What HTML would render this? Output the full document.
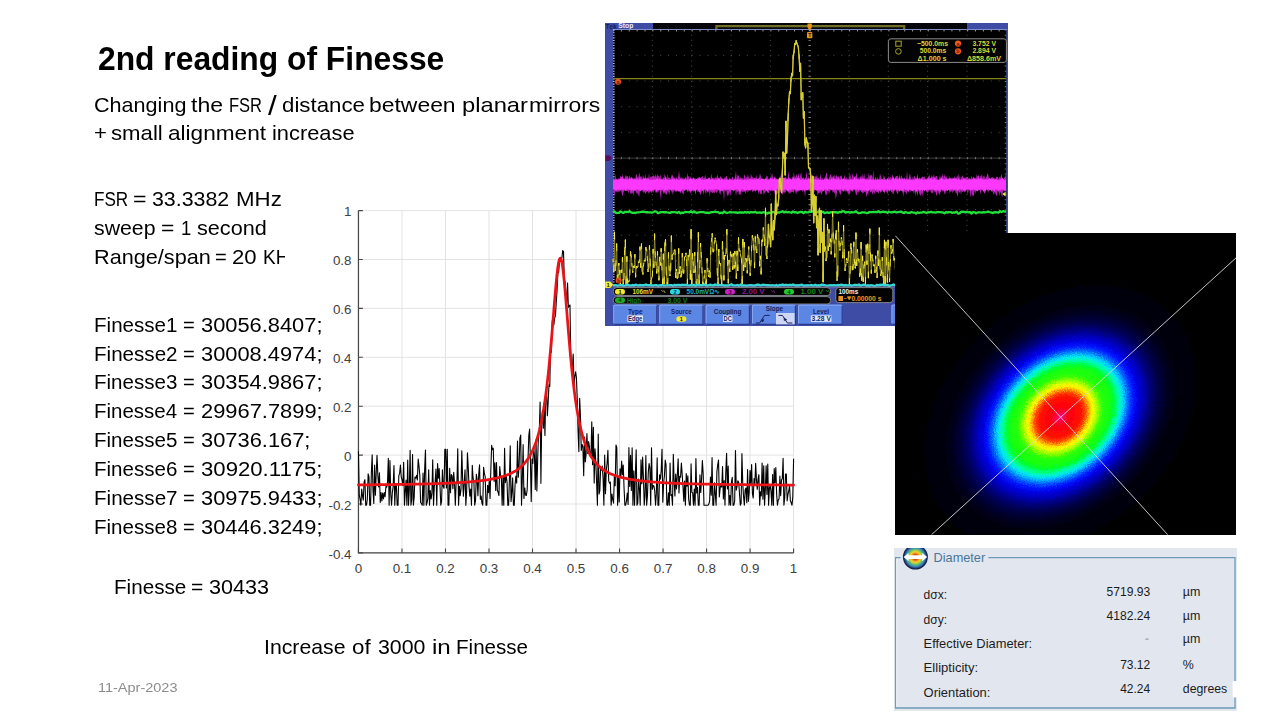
<!DOCTYPE html>
<html><head><meta charset="utf-8"><title>2nd reading of Finesse</title>
<style>
html,body{margin:0;padding:0;background:#fff;}
body{width:1280px;height:720px;position:relative;overflow:hidden;font-family:"Liberation Sans",sans-serif;}
.t{position:absolute;white-space:nowrap;transform-origin:0 0;line-height:1;}
svg{position:absolute;display:block;overflow:hidden;}
svg text{font-family:"Liberation Sans",sans-serif;}
</style></head><body>
<div class="t" style="left:97.89px;top:42.48px;font-size:33.4px;transform:scaleX(0.9522);color:#000;font-weight:bold;">2nd reading of Finesse</div>
<div class="t" style="left:0;top:94.72px;font-size:20.3px;color:#000;"><span class="t" style="left:94.02px;top:0;transform:scaleX(1.0645)">Changing</span> <span class="t" style="left:190.55px;top:0;transform:scaleX(1.1371)">the</span> <span class="t" style="left:228.88px;top:0;transform:scaleX(0.8144)">FSR</span> <span class="t" style="left:268.20px;top:-3.01px;font-size:27.4px;transform:scaleX(1.1470)">/</span> <span class="t" style="left:282.41px;top:0;transform:scaleX(1.0975)">distance</span> <span class="t" style="left:369.41px;top:0;transform:scaleX(1.1296)">between</span> <span class="t" style="left:461.56px;top:0;transform:scaleX(1.1698)">planar</span> <span class="t" style="left:528.81px;top:0;transform:scaleX(1.1309)">mirrors</span></div>
<div class="t" style="left:0;top:123.42px;font-size:20.3px;color:#000;"><span class="t" style="left:94.00px;top:0;transform:scaleX(1.0868)">+</span> <span class="t" style="left:111.23px;top:0;transform:scaleX(1.0932)">small</span> <span class="t" style="left:168.29px;top:0;transform:scaleX(1.1150)">alignment</span> <span class="t" style="left:271.58px;top:0;transform:scaleX(1.0765)">increase</span></div>
<div class="t" style="left:0;top:188.92px;font-size:20.3px;color:#000;"><span class="t" style="left:94.33px;top:0;transform:scaleX(0.8433)">FSR</span> <span class="t" style="left:133.25px;top:0;transform:scaleX(1.1376)">=</span> <span class="t" style="left:152.05px;top:0;transform:scaleX(1.0523)">33.3382</span> <span class="t" style="left:236.02px;top:0;transform:scaleX(1.0978)">MHz</span></div>
<div class="t" style="left:0;top:217.62px;font-size:20.3px;color:#000;"><span class="t" style="left:94.36px;top:0;transform:scaleX(1.0499)">sweep</span> <span class="t" style="left:161.06px;top:0;transform:scaleX(1.1274)">=</span> <span class="t" style="left:181.02px;top:0;transform:scaleX(0.9060)">1</span> <span class="t" style="left:197.15px;top:0;transform:scaleX(1.0671)">second</span></div>
<div class="t" style="left:0;top:246.62px;font-size:20.3px;color:#000;"><span class="t" style="left:93.87px;top:0;transform:scaleX(1.0679)">Range/span</span> <span class="t" style="left:214.99px;top:0;transform:scaleX(0.9954)">=</span> <span class="t" style="left:232.09px;top:0;transform:scaleX(1.0910)">20</span> <span class="t" style="left:262.58px;top:0;transform:scaleX(0.9348)">KHz</span></div>
<svg style="left:285px;top:198px" width="560" height="394" viewBox="0 0 560 394">
<rect x="0" y="0" width="560" height="394" fill="#fff"/>
<path d="M73.45 12.60V354.90M116.96 12.60V354.90M160.48 12.60V354.90M204.00 12.60V354.90M247.51 12.60V354.90M291.02 12.60V354.90M334.54 12.60V354.90M378.06 12.60V354.90M421.57 12.60V354.90M465.09 12.60V354.90M508.60 12.60V354.90M73.45 12.60H508.60M73.45 61.50H508.60M73.45 110.40H508.60M73.45 159.30H508.60M73.45 208.20H508.60M73.45 257.10H508.60M73.45 306.00H508.60M73.45 354.90H508.60" stroke="#e3e3e3" stroke-width="1" fill="none"/>
<path d="M73.45 12.60V354.90H508.60" stroke="#484848" stroke-width="1.25" fill="none"/>
<path d="M73.45 354.90v-4.4M116.96 354.90v-4.4M160.48 354.90v-4.4M204.00 354.90v-4.4M247.51 354.90v-4.4M291.02 354.90v-4.4M334.54 354.90v-4.4M378.06 354.90v-4.4M421.57 354.90v-4.4M465.09 354.90v-4.4M508.60 354.90v-4.4M73.45 12.60h4.4M73.45 61.50h4.4M73.45 110.40h4.4M73.45 159.30h4.4M73.45 208.20h4.4M73.45 257.10h4.4M73.45 306.00h4.4M73.45 354.90h4.4" stroke="#484848" stroke-width="1.1" fill="none"/>
<g font-size="13.4" fill="#404040">
<text x="73.45" y="374.90" text-anchor="middle">0</text>
<text x="116.96" y="374.90" text-anchor="middle">0.1</text>
<text x="160.48" y="374.90" text-anchor="middle">0.2</text>
<text x="204.00" y="374.90" text-anchor="middle">0.3</text>
<text x="247.51" y="374.90" text-anchor="middle">0.4</text>
<text x="291.02" y="374.90" text-anchor="middle">0.5</text>
<text x="334.54" y="374.90" text-anchor="middle">0.6</text>
<text x="378.06" y="374.90" text-anchor="middle">0.7</text>
<text x="421.57" y="374.90" text-anchor="middle">0.8</text>
<text x="465.09" y="374.90" text-anchor="middle">0.9</text>
<text x="508.60" y="374.90" text-anchor="middle">1</text>
<text x="66.50" y="18.40" text-anchor="end">1</text>
<text x="66.50" y="67.30" text-anchor="end">0.8</text>
<text x="66.50" y="116.20" text-anchor="end">0.6</text>
<text x="66.50" y="165.10" text-anchor="end">0.4</text>
<text x="66.50" y="214.00" text-anchor="end">0.2</text>
<text x="66.50" y="262.90" text-anchor="end">0</text>
<text x="66.50" y="311.80" text-anchor="end">-0.2</text>
<text x="66.50" y="360.70" text-anchor="end">-0.4</text>
</g>
<path d="M73.45 253.16L74.26 296.95L75.06 301.22L75.87 307.22L76.68 290.96L77.49 297.65L78.29 302.31L79.10 283.97L79.91 281.69L80.72 307.22L81.52 307.22L82.33 300.97L83.14 275.89L83.95 278.64L84.75 307.22L85.56 307.22L86.37 274.84L87.17 256.81L87.98 291.35L88.79 305.38L89.60 267.09L90.40 297.32L91.21 275.03L92.02 257.31L92.83 277.08L93.63 289.04L94.44 274.86L95.25 304.43L96.06 294.43L96.86 302.94L97.67 294.98L98.48 301.04L99.28 294.56L100.09 298.74L100.90 288.63L101.71 289.17L102.51 284.15L103.32 260.33L104.13 307.22L104.94 262.62L105.74 295.59L106.55 307.22L107.36 294.17L108.17 288.48L108.97 267.47L109.78 307.22L110.59 285.74L111.39 287.87L112.20 307.22L113.01 307.22L113.82 277.46L114.62 275.40L115.43 266.95L116.24 278.85L117.05 281.82L117.85 287.67L118.66 264.29L119.47 307.22L120.28 293.33L121.08 281.97L121.89 307.22L122.70 262.03L123.50 307.22L124.31 291.75L125.12 252.29L125.93 307.22L126.73 301.55L127.54 256.54L128.35 307.22L129.16 299.41L129.96 278.99L130.77 280.28L131.58 277.29L132.38 282.08L133.19 261.08L134.00 268.15L134.81 277.19L135.61 304.67L136.42 305.31L137.23 307.22L138.04 275.13L138.84 307.22L139.65 270.97L140.46 251.97L141.27 307.22L142.07 304.55L142.88 300.05L143.69 271.91L144.49 307.22L145.30 292.54L146.11 300.97L146.92 295.10L147.72 261.88L148.53 307.22L149.34 288.07L150.15 283.75L150.95 271.09L151.76 307.22L152.57 265.53L153.38 280.13L154.18 270.65L154.99 287.89L155.80 307.22L156.60 303.30L157.41 271.75L158.22 288.52L159.03 290.33L159.83 251.35L160.64 251.32L161.45 289.98L162.26 251.26L163.06 307.22L163.87 307.22L164.68 270.39L165.49 294.65L166.29 276.52L167.10 277.82L167.91 290.82L168.71 274.18L169.52 285.57L170.33 307.22L171.14 284.02L171.94 284.70L172.75 250.75L173.56 307.22L174.37 288.19L175.17 297.64L175.98 291.32L176.79 252.71L177.60 280.21L178.40 298.30L179.21 284.94L180.02 271.71L180.82 307.22L181.63 293.77L182.44 254.84L183.25 269.54L184.05 288.86L184.86 298.11L185.67 291.08L186.48 307.22L187.28 267.34L188.09 280.22L188.90 284.51L189.71 307.22L190.51 302.72L191.32 276.18L192.13 281.63L192.93 297.78L193.74 276.14L194.55 266.71L195.36 301.34L196.16 298.15L196.97 305.35L197.78 307.22L198.59 269.29L199.39 275.35L200.20 278.92L201.01 307.22L201.82 307.22L202.62 287.32L203.43 294.63L204.24 283.03L205.04 300.52L205.85 271.27L206.66 247.30L207.47 251.78L208.27 250.27L209.08 283.22L209.89 264.76L210.70 292.53L211.50 264.45L212.31 292.21L213.12 294.40L213.93 297.55L214.73 268.44L215.54 277.35L216.35 279.05L217.15 307.22L217.96 279.55L218.77 307.22L219.58 250.34L220.38 284.67L221.19 277.39L222.00 283.55L222.81 307.22L223.61 307.22L224.42 280.96L225.23 247.90L226.04 303.65L226.84 294.46L227.65 279.91L228.46 307.22L229.26 307.22L230.07 286.47L230.88 278.13L231.69 285.08L232.49 243.13L233.30 279.13L234.11 267.28L234.92 240.04L235.72 237.14L236.53 307.22L237.34 280.53L238.14 246.66L238.95 300.55L239.76 289.93L240.57 297.08L241.37 297.53L242.18 291.63L242.99 262.36L243.80 237.74L244.60 230.96L245.41 262.31L246.22 303.60L247.03 260.96L247.83 265.48L248.64 248.93L249.45 257.49L250.25 291.45L251.06 241.85L251.87 293.01L252.68 260.98L253.48 236.85L254.29 233.24L255.10 203.97L255.91 285.36L256.71 223.71L257.52 212.39L258.33 230.14L259.14 204.92L259.94 237.47L260.75 194.45L261.56 191.34L262.36 217.62L263.17 204.13L263.98 186.78L264.79 188.54L265.59 145.67L266.40 154.32L267.21 123.96L268.02 117.96L268.82 126.87L269.63 119.90L270.44 117.99L271.25 104.23L272.05 92.78L272.86 75.10L273.67 74.24L274.47 63.58L275.28 59.30L276.09 60.48L276.90 60.00L277.70 52.60L278.51 53.68L279.32 81.65L280.13 84.27L280.93 96.42L281.74 105.54L282.55 85.03L283.36 109.33L284.16 107.89L284.97 106.96L285.78 161.10L286.58 165.09L287.39 168.92L288.20 155.97L289.01 187.31L289.81 178.49L290.62 173.72L291.43 179.79L292.24 200.73L293.04 232.41L293.85 253.59L294.66 200.36L295.47 218.68L296.27 252.38L297.08 246.50L297.89 248.45L298.69 277.75L299.50 239.01L300.31 263.87L301.12 255.60L301.92 235.52L302.73 255.51L303.54 243.64L304.35 247.98L305.15 258.02L305.96 259.18L306.77 223.76L307.58 266.66L308.38 229.22L309.19 285.08L310.00 250.83L310.80 263.88L311.61 284.23L312.42 307.22L313.23 236.01L314.03 296.00L314.84 292.64L315.65 269.87L316.46 272.12L317.26 268.01L318.07 280.10L318.88 307.22L319.69 257.13L320.49 295.78L321.30 272.02L322.11 264.95L322.91 252.33L323.72 282.90L324.53 285.20L325.34 284.05L326.14 307.22L326.95 296.01L327.76 301.73L328.57 305.20L329.37 277.17L330.18 287.79L330.99 247.03L331.80 249.62L332.60 307.22L333.41 279.55L334.22 303.98L335.02 270.71L335.83 279.51L336.64 263.11L337.45 276.66L338.25 267.17L339.06 290.17L339.87 307.22L340.68 307.22L341.48 302.70L342.29 295.02L343.10 306.42L343.91 249.66L344.71 288.57L345.52 257.22L346.33 292.53L347.13 249.79L347.94 307.22L348.75 272.75L349.56 307.22L350.36 276.39L351.17 251.88L351.98 307.22L352.79 305.01L353.59 281.08L354.40 290.46L355.21 307.22L356.01 261.78L356.82 285.63L357.63 259.02L358.44 280.09L359.24 307.22L360.05 297.47L360.86 257.46L361.67 307.22L362.47 297.38L363.28 274.51L364.09 265.67L364.90 269.78L365.70 307.22L366.51 249.82L367.32 291.33L368.12 287.59L368.93 287.98L369.74 292.97L370.55 307.22L371.35 295.13L372.16 259.70L372.97 307.22L373.78 307.22L374.58 276.81L375.39 281.11L376.20 272.76L377.01 251.31L377.81 304.13L378.62 284.76L379.43 277.80L380.23 262.16L381.04 266.63L381.85 306.89L382.66 307.22L383.46 294.70L384.27 307.22L385.08 265.04L385.89 297.44L386.69 296.65L387.50 307.22L388.31 256.28L389.12 282.90L389.92 298.00L390.73 276.01L391.54 291.04L392.34 276.46L393.15 260.89L393.96 294.99L394.77 278.31L395.57 279.07L396.38 264.98L397.19 276.63L398.00 288.75L398.80 303.30L399.61 283.16L400.42 307.22L401.23 275.47L402.03 288.30L402.84 277.79L403.65 300.81L404.45 306.90L405.26 307.22L406.07 265.89L406.88 294.43L407.68 294.70L408.49 307.22L409.30 291.02L410.11 307.22L410.91 260.52L411.72 295.05L412.53 289.42L413.34 307.22L414.14 307.22L414.95 276.92L415.76 294.43L416.56 280.73L417.37 262.64L418.18 275.73L418.99 307.22L419.79 307.22L420.60 307.22L421.41 307.22L422.22 307.22L423.02 307.22L423.83 306.12L424.64 303.00L425.45 279.04L426.25 297.15L427.06 259.60L427.87 307.22L428.67 307.22L429.48 284.86L430.29 296.13L431.10 307.22L431.90 273.74L432.71 266.89L433.52 262.13L434.33 298.93L435.13 290.52L435.94 285.47L436.75 289.15L437.56 268.45L438.36 300.98L439.17 282.46L439.98 307.22L440.78 274.20L441.59 255.18L442.40 291.04L443.21 268.17L444.01 307.22L444.82 297.67L445.63 307.22L446.44 283.66L447.24 279.28L448.05 307.22L448.86 307.22L449.67 303.15L450.47 252.63L451.28 292.15L452.09 287.99L452.89 282.83L453.70 284.19L454.51 295.75L455.32 307.22L456.12 305.24L456.93 255.47L457.74 285.13L458.55 298.66L459.35 307.22L460.16 291.87L460.97 289.99L461.77 304.73L462.58 271.50L463.39 303.37L464.20 294.33L465.00 272.58L465.81 285.89L466.62 266.57L467.43 295.67L468.23 300.04L469.04 280.67L469.85 286.13L470.66 265.24L471.46 282.02L472.27 291.33L473.08 281.10L473.88 276.67L474.69 307.22L475.50 293.86L476.31 297.98L477.11 264.96L477.92 301.23L478.73 267.92L479.54 307.22L480.34 292.01L481.15 267.86L481.96 296.44L482.77 266.03L483.57 307.22L484.38 290.26L485.19 287.38L485.99 293.55L486.80 307.22L487.61 276.53L488.42 307.22L489.22 270.47L490.03 284.60L490.84 269.65L491.65 296.35L492.45 307.22L493.26 302.00L494.07 300.88L494.88 278.03L495.68 297.61L496.49 281.98L497.30 280.48L498.10 260.32L498.91 307.22L499.72 299.56L500.53 276.04L501.33 275.98L502.14 302.85L502.95 296.46L503.76 292.76L504.56 287.91L505.37 302.82L506.18 304.52L506.99 307.22L507.79 298.84L508.60 260.82" stroke="#000" stroke-width="1.1" fill="none" stroke-linejoin="round"/>
<path d="M73.45 286.88L74.54 286.87L75.63 286.87L76.72 286.86L77.81 286.85L78.90 286.84L79.99 286.83L81.08 286.82L82.17 286.81L83.27 286.80L84.36 286.79L85.45 286.78L86.54 286.77L87.63 286.76L88.72 286.75L89.81 286.74L90.90 286.73L91.99 286.72L93.08 286.71L94.17 286.70L95.26 286.68L96.35 286.67L97.44 286.66L98.53 286.65L99.62 286.63L100.72 286.62L101.81 286.61L102.90 286.60L103.99 286.58L105.08 286.57L106.17 286.55L107.26 286.54L108.35 286.52L109.44 286.51L110.53 286.49L111.62 286.48L112.71 286.46L113.80 286.45L114.89 286.43L115.98 286.41L117.07 286.40L118.16 286.38L119.26 286.36L120.35 286.34L121.44 286.32L122.53 286.31L123.62 286.29L124.71 286.27L125.80 286.25L126.89 286.22L127.98 286.20L129.07 286.18L130.16 286.16L131.25 286.14L132.34 286.11L133.43 286.09L134.52 286.07L135.61 286.04L136.70 286.02L137.80 285.99L138.89 285.96L139.98 285.94L141.07 285.91L142.16 285.88L143.25 285.85L144.34 285.82L145.43 285.79L146.52 285.76L147.61 285.72L148.70 285.69L149.79 285.66L150.88 285.62L151.97 285.59L153.06 285.55L154.15 285.51L155.25 285.47L156.34 285.43L157.43 285.39L158.52 285.35L159.61 285.31L160.70 285.26L161.79 285.22L162.88 285.17L163.97 285.12L165.06 285.07L166.15 285.02L167.24 284.97L168.33 284.91L169.42 284.85L170.51 284.80L171.60 284.74L172.69 284.67L173.79 284.61L174.88 284.55L175.97 284.48L177.06 284.41L178.15 284.34L179.24 284.26L180.33 284.18L181.42 284.10L182.51 284.02L183.60 283.93L184.69 283.85L185.78 283.75L186.87 283.66L187.96 283.56L189.05 283.46L190.14 283.35L191.23 283.24L192.33 283.12L193.42 283.01L194.51 282.88L195.60 282.75L196.69 282.62L197.78 282.48L198.87 282.33L199.96 282.18L201.05 282.02L202.14 281.86L203.23 281.69L204.32 281.51L205.41 281.32L206.50 281.12L207.59 280.91L208.68 280.70L209.78 280.47L210.87 280.23L211.96 279.98L213.05 279.72L214.14 279.45L215.23 279.16L216.32 278.85L217.41 278.53L218.50 278.19L219.59 277.83L220.68 277.45L221.77 277.05L222.86 276.63L223.95 276.18L225.04 275.70L226.13 275.19L227.22 274.65L228.32 274.08L229.41 273.47L230.50 272.81L231.59 272.11L232.68 271.36L233.77 270.56L234.86 269.70L235.95 268.77L237.04 267.78L238.13 266.70L239.22 265.54L240.31 264.28L240.46 264.10L240.81 263.67L241.16 263.23L241.40 262.92L241.51 262.78L241.86 262.31L242.21 261.83L242.49 261.44L242.56 261.34L242.91 260.84L243.26 260.32L243.58 259.82L243.61 259.78L243.96 259.24L244.31 258.67L244.66 258.09L244.67 258.07L245.01 257.50L245.36 256.88L245.71 256.25L245.77 256.15L246.06 255.60L246.41 254.93L246.76 254.24L246.86 254.05L247.11 253.53L247.46 252.80L247.81 252.05L247.95 251.74L248.16 251.27L248.51 250.47L248.86 249.64L249.04 249.21L249.21 248.79L249.56 247.91L249.91 247.01L250.13 246.42L250.26 246.07L250.61 245.10L250.96 244.11L251.22 243.34L251.31 243.08L251.66 242.01L252.01 240.91L252.31 239.93L252.36 239.78L252.71 238.61L253.06 237.39L253.40 236.16L253.41 236.14L253.76 234.84L254.11 233.50L254.46 232.11L254.49 231.97L254.81 230.68L255.16 229.19L255.50 227.66L255.58 227.32L255.85 226.06L256.20 224.42L256.55 222.71L256.67 222.13L256.90 220.95L257.25 219.12L257.60 217.23L257.76 216.35L257.95 215.27L258.30 213.24L258.65 211.14L258.85 209.91L259.00 208.96L259.35 206.71L259.70 204.38L259.94 202.74L260.05 201.97L260.40 199.47L260.75 196.88L261.03 194.75L261.10 194.21L261.45 191.45L261.80 188.59L262.12 185.88L262.15 185.64L262.50 182.59L262.85 179.44L263.20 176.20L263.21 176.08L263.55 172.86L263.90 169.41L264.25 165.87L264.31 165.32L264.60 162.23L264.95 158.50L265.30 154.67L265.40 153.62L265.65 150.75L266.00 146.74L266.35 142.66L266.49 141.06L266.70 138.51L267.05 134.29L267.40 130.01L267.58 127.84L267.75 125.70L268.10 121.35L268.45 116.99L268.67 114.27L268.80 112.62L269.15 108.28L269.50 103.97L269.76 100.83L269.85 99.73L270.20 95.57L270.55 91.51L270.85 88.15L270.90 87.59L271.25 83.83L271.60 80.26L271.94 76.98L271.95 76.90L272.30 73.78L272.65 70.93L273.00 68.37L273.03 68.16L273.35 66.13L273.70 64.23L274.05 62.69L274.12 62.41L274.40 61.51L274.75 60.72L275.10 60.33L275.21 60.28L275.45 60.33L275.80 60.72L276.15 61.51L276.30 61.98L276.50 62.69L276.85 64.23L277.20 66.13L277.39 67.35L277.55 68.37L277.90 70.93L278.25 73.78L278.48 75.86L278.60 76.90L278.95 80.26L279.30 83.83L279.57 86.80L279.65 87.59L280.00 91.51L280.35 95.57L280.66 99.35L280.70 99.73L281.05 103.97L281.40 108.28L281.75 112.62L281.75 112.74L282.10 116.99L282.44 121.35L282.79 125.70L282.85 126.32L283.14 130.01L283.49 134.29L283.84 138.51L283.94 139.60L284.19 142.66L284.54 146.74L284.89 150.75L285.03 152.25L285.24 154.67L285.59 158.50L285.94 162.23L286.12 164.05L286.29 165.87L286.64 169.41L286.99 172.86L287.21 174.92L287.34 176.20L287.69 179.44L288.04 182.59L288.30 184.83L288.39 185.64L288.74 188.59L289.09 191.45L289.39 193.80L289.44 194.21L289.79 196.88L290.14 199.47L290.48 201.88L290.49 201.97L290.84 204.38L291.19 206.71L291.54 208.96L291.57 209.15L291.89 211.14L292.24 213.24L292.59 215.27L292.66 215.67L292.94 217.23L293.29 219.12L293.64 220.95L293.75 221.51L293.99 222.71L294.34 224.42L294.69 226.06L294.84 226.76L295.04 227.66L295.39 229.19L295.74 230.68L295.93 231.47L296.09 232.11L296.44 233.50L296.79 234.84L297.02 235.71L297.14 236.14L297.49 237.39L297.84 238.61L298.11 239.53L298.19 239.78L298.54 240.91L298.89 242.01L299.20 242.97L299.24 243.08L299.59 244.11L299.94 245.10L300.29 246.07L300.30 246.09L300.64 247.01L300.99 247.91L301.34 248.79L301.39 248.91L301.69 249.64L302.04 250.47L302.39 251.27L302.48 251.47L302.74 252.05L303.09 252.80L303.44 253.53L303.57 253.80L303.79 254.24L304.14 254.93L304.49 255.60L304.66 255.92L304.84 256.25L305.19 256.88L305.54 257.50L305.75 257.86L305.89 258.09L306.24 258.67L306.59 259.24L306.84 259.63L306.94 259.78L307.29 260.32L307.64 260.84L307.93 261.26L307.99 261.34L308.34 261.83L308.69 262.31L309.02 262.76L309.03 262.78L309.38 263.23L309.73 263.67L310.08 264.10L310.11 264.13L311.20 265.40L312.29 266.57L313.38 267.66L314.47 268.66L315.56 269.60L316.65 270.47L317.74 271.28L318.84 272.03L319.93 272.74L321.02 273.39L322.11 274.01L323.20 274.59L324.29 275.13L325.38 275.65L326.47 276.13L327.56 276.58L328.65 277.01L329.74 277.41L330.83 277.79L331.92 278.15L333.01 278.49L334.10 278.82L335.19 279.12L336.28 279.42L337.38 279.69L338.47 279.96L339.56 280.21L340.65 280.45L341.74 280.67L342.83 280.89L343.92 281.10L345.01 281.30L346.10 281.49L347.19 281.67L348.28 281.84L349.37 282.01L350.46 282.16L351.55 282.32L352.64 282.46L353.73 282.60L354.83 282.74L355.92 282.87L357.01 282.99L358.10 283.11L359.19 283.23L360.28 283.34L361.37 283.44L362.46 283.55L363.55 283.65L364.64 283.74L365.73 283.84L366.82 283.92L367.91 284.01L369.00 284.09L370.09 284.17L371.18 284.25L372.27 284.33L373.37 284.40L374.46 284.47L375.55 284.54L376.64 284.60L377.73 284.67L378.82 284.73L379.91 284.79L381.00 284.85L382.09 284.90L383.18 284.96L384.27 285.01L385.36 285.06L386.45 285.11L387.54 285.16L388.63 285.21L389.72 285.26L390.82 285.30L391.91 285.34L393.00 285.39L394.09 285.43L395.18 285.47L396.27 285.51L397.36 285.55L398.45 285.58L399.54 285.62L400.63 285.65L401.72 285.69L402.81 285.72L403.90 285.75L404.99 285.79L406.08 285.82L407.17 285.85L408.26 285.88L409.36 285.90L410.45 285.93L411.54 285.96L412.63 285.99L413.72 286.01L414.81 286.04L415.90 286.06L416.99 286.09L418.08 286.11L419.17 286.13L420.26 286.16L421.35 286.18L422.44 286.20L423.53 286.22L424.62 286.24L425.71 286.26L426.80 286.28L427.90 286.30L428.99 286.32L430.08 286.34L431.17 286.36L432.26 286.38L433.35 286.39L434.44 286.41L435.53 286.43L436.62 286.45L437.71 286.46L438.80 286.48L439.89 286.49L440.98 286.51L442.07 286.52L443.16 286.54L444.25 286.55L445.35 286.57L446.44 286.58L447.53 286.59L448.62 286.61L449.71 286.62L450.80 286.63L451.89 286.65L452.98 286.66L454.07 286.67L455.16 286.68L456.25 286.69L457.34 286.71L458.43 286.72L459.52 286.73L460.61 286.74L461.70 286.75L462.79 286.76L463.89 286.77L464.98 286.78L466.07 286.79L467.16 286.80L468.25 286.81L469.34 286.82L470.43 286.83L471.52 286.84L472.61 286.85L473.70 286.86L474.79 286.87L475.88 286.87L476.97 286.88L478.06 286.89L479.15 286.90L480.24 286.91L481.33 286.91L482.43 286.92L483.52 286.93L484.61 286.94L485.70 286.95L486.79 286.95L487.88 286.96L488.97 286.97L490.06 286.97L491.15 286.98L492.24 286.99L493.33 286.99L494.42 287.00L495.51 287.01L496.60 287.01L497.69 287.02L498.78 287.03L499.88 287.03L500.97 287.04L502.06 287.04L503.15 287.05L504.24 287.06L505.33 287.06L506.42 287.07L507.51 287.07L508.60 287.08" stroke="#ea1418" stroke-width="2.75" fill="none" stroke-linejoin="round" stroke-linecap="round"/>
</svg>
<div class="t" style="left:0;top:314.77px;font-size:20.3px;color:#000;"><span class="t" style="left:93.95px;top:0;transform:scaleX(1.0141)">Finesse1</span> <span class="t" style="left:183.09px;top:0;transform:scaleX(0.9954)">=</span> <span class="t" style="left:200.83px;top:0;transform:scaleX(1.0768)">30056.8407;</span></div>
<div class="t" style="left:0;top:343.63px;font-size:20.3px;color:#000;"><span class="t" style="left:93.95px;top:0;transform:scaleX(1.0153)">Finesse2</span> <span class="t" style="left:183.09px;top:0;transform:scaleX(0.9954)">=</span> <span class="t" style="left:200.83px;top:0;transform:scaleX(1.0768)">30008.4974;</span></div>
<div class="t" style="left:0;top:372.49px;font-size:20.3px;color:#000;"><span class="t" style="left:93.96px;top:0;transform:scaleX(1.0128)">Finesse3</span> <span class="t" style="left:183.09px;top:0;transform:scaleX(0.9954)">=</span> <span class="t" style="left:200.83px;top:0;transform:scaleX(1.0768)">30354.9867;</span></div>
<div class="t" style="left:0;top:401.35px;font-size:20.3px;color:#000;"><span class="t" style="left:93.96px;top:0;transform:scaleX(1.0102)">Finesse4</span> <span class="t" style="left:183.09px;top:0;transform:scaleX(0.9954)">=</span> <span class="t" style="left:200.61px;top:0;transform:scaleX(1.0787)">29967.7899;</span></div>
<div class="t" style="left:0;top:430.21px;font-size:20.3px;color:#000;"><span class="t" style="left:93.96px;top:0;transform:scaleX(1.0128)">Finesse5</span> <span class="t" style="left:183.09px;top:0;transform:scaleX(0.9954)">=</span> <span class="t" style="left:200.82px;top:0;transform:scaleX(1.0782)">30736.167;</span></div>
<div class="t" style="left:0;top:459.07px;font-size:20.3px;color:#000;"><span class="t" style="left:93.96px;top:0;transform:scaleX(1.0128)">Finesse6</span> <span class="t" style="left:183.09px;top:0;transform:scaleX(0.9954)">=</span> <span class="t" style="left:200.81px;top:0;transform:scaleX(1.0918)">30920.1175;</span></div>
<div class="t" style="left:0;top:487.93px;font-size:20.3px;color:#000;"><span class="t" style="left:93.95px;top:0;transform:scaleX(1.0153)">Finesse7</span> <span class="t" style="left:183.09px;top:0;transform:scaleX(0.9954)">=</span> <span class="t" style="left:200.83px;top:0;transform:scaleX(1.0768)">30975.9433;</span></div>
<div class="t" style="left:0;top:516.79px;font-size:20.3px;color:#000;"><span class="t" style="left:93.96px;top:0;transform:scaleX(1.0128)">Finesse8</span> <span class="t" style="left:183.09px;top:0;transform:scaleX(0.9954)">=</span> <span class="t" style="left:200.83px;top:0;transform:scaleX(1.0768)">30446.3249;</span></div>
<div class="t" style="left:0;top:576.92px;font-size:20.3px;color:#000;"><span class="t" style="left:113.75px;top:0;transform:scaleX(1.0173)">Finesse</span> <span class="t" style="left:191.05px;top:0;transform:scaleX(1.0360)">=</span> <span class="t" style="left:208.83px;top:0;transform:scaleX(1.0655)">30433</span></div>
<div class="t" style="left:0;top:637.12px;font-size:20.3px;color:#000;"><span class="t" style="left:264.49px;top:0;transform:scaleX(1.0478)">Increase</span> <span class="t" style="left:352.00px;top:0;transform:scaleX(1.1030)">of</span> <span class="t" style="left:378.05px;top:0;transform:scaleX(1.0517)">3000</span> <span class="t" style="left:432.03px;top:0;transform:scaleX(1.1914)">in</span> <span class="t" style="left:455.75px;top:0;transform:scaleX(1.0144)">Finesse</span></div>
<div class="t" style="left:97.91px;top:681.00px;font-size:13.7px;transform:scaleX(1.0589);color:#8c8c8c;">11-Apr-2023</div>
<svg style="left:605px;top:23px" width="403" height="303" viewBox="605 23 403 303">
<rect x="605" y="23" width="403" height="303" fill="#3e4ca6"/>
<rect x="653" y="23" width="314" height="6.3" fill="#05050c"/>
<path d="M716.4 29V26.1H904.2V29" stroke="#6f6f24" stroke-width="2.3" fill="none"/>
<text x="605.6" y="28.6" font-size="6.8" font-weight="bold" fill="#1a2050" textLength="11" lengthAdjust="spacingAndGlyphs">Tek</text>
<text x="618.3" y="28.4" font-size="6.6" font-weight="bold" fill="#e8ecff" textLength="15" lengthAdjust="spacingAndGlyphs">Stop</text>
<rect x="613.0" y="29.6" width="393.3" height="257" fill="#000"/>
<rect x="613.0" y="29.1" width="394.3" height="0.9" fill="#8a9ad8"/>
<path d="M652.33 29.6V286.6M691.66 29.6V286.6M730.99 29.6V286.6M770.32 29.6V286.6M848.98 29.6V286.6M888.31 29.6V286.6M927.64 29.6V286.6M966.97 29.6V286.6" stroke="#4c4c4c" stroke-width="1" stroke-dasharray="1 4.14" fill="none"/>
<path d="M613 55.3H1006.3M613 81H1006.3M613 106.7H1006.3M613 132.4H1006.3M613 183.8H1006.3M613 209.5H1006.3M613 235.2H1006.3M613 260.9H1006.3" stroke="#4c4c4c" stroke-width="1" stroke-dasharray="1 6.87" fill="none"/>
<path d="M809.65 29.6V286.6" stroke="#8a8a8a" stroke-width="2.4" stroke-dasharray="0.9 4.24" fill="none"/>
<path d="M613 158.1H1006.3" stroke="#8a8a8a" stroke-width="2.4" stroke-dasharray="0.9 6.97" fill="none"/>
<path d="M613 158.1H1006.3" stroke="#555" stroke-width="0.7" fill="none"/>
<path d="M613.8 29.6V286.6" stroke="#c8cce0" stroke-width="1.5" stroke-dasharray="1.1 1.47" fill="none"/>
<path d="M1005.5 29.6V286.6" stroke="#777" stroke-width="1.6" stroke-dasharray="1 4.14" fill="none"/>
<path d="M613 30.6H1006.3" stroke="#999" stroke-width="1.6" stroke-dasharray="1 6.87" fill="none"/>
<path d="M613 78.7H1006.3" stroke="#85851c" stroke-width="1.3" fill="none"/>
<path d="M613 174L613.75 178.46L614.5 179.58L615.25 173.75L616 178.98L616.75 178.73L617.5 179.63L618.25 177.83L619 179.76L619.75 178.33L620.5 175.56L621.25 176.98L622 176.99L622.75 174.26L623.5 179.73L624.25 178.56L625 178.1L625.75 174.8L626.5 176.66L627.25 176.27L628 175.99L628.75 179.22L629.5 175L630.25 179.12L631 176.52L631.75 177.55L632.5 177.84L633.25 179.37L634 177.36L634.75 179.14L635.5 177.44L636.25 173.38L637 175.79L637.75 177.83L638.5 177.25L639.25 171.92L640 176.85L640.75 176.52L641.5 176.19L642.25 179.46L643 174.54L643.75 177.77L644.5 178.72L645.25 174.15L646 177.93L646.75 177.96L647.5 177.02L648.25 179.8L649 172.48L649.75 179.02L650.5 176.56L651.25 177.09L652 176.24L652.75 176.21L653.5 174.99L654.25 176.21L655 177.11L655.75 173.76L656.5 177.91L657.25 173.58L658 176.44L658.75 175.5L659.5 179.25L660.25 174.04L661 177.67L661.75 179.4L662.5 179.4L663.25 176.39L664 178.45L664.75 173.5L665.5 176.52L666.25 176.93L667 179.39L667.75 174.06L668.5 178.3L669.25 177.67L670 177.78L670.75 179.08L671.5 175.29L672.25 175.31L673 175.38L673.75 179.11L674.5 177.87L675.25 177.13L676 179.42L676.75 176.05L677.5 179.82L678.25 176.97L679 170.28L679.75 176.69L680.5 177.95L681.25 178.2L682 176.73L682.75 178.65L683.5 178L684.25 179.54L685 177.66L685.75 177.08L686.5 178.91L687.25 172.78L688 177.01L688.75 175.63L689.5 179.64L690.25 178.04L691 175.83L691.75 179.41L692.5 178.15L693.25 177.49L694 177.77L694.75 178.87L695.5 178.2L696.25 179.28L697 178.53L697.75 177.51L698.5 177.62L699.25 178.29L700 177.09L700.75 178.3L701.5 177.15L702.25 175.46L703 177.66L703.75 178.49L704.5 177.41L705.25 174.14L706 179.16L706.75 178.95L707.5 179.64L708.25 178.99L709 177.76L709.75 177.47L710.5 179.35L711.25 173.6L712 177.21L712.75 178.18L713.5 178.06L714.25 178.32L715 178.39L715.75 177.06L716.5 178.17L717.25 174.37L718 176.91L718.75 179.61L719.5 179.48L720.25 175.8L721 177.54L721.75 177.49L722.5 178.49L723.25 179.41L724 177.14L724.75 178.28L725.5 177.05L726.25 176.36L727 175.87L727.75 179.7L728.5 179.89L729.25 178.5L730 177.51L730.75 179.78L731.5 179.44L732.25 176.61L733 177.27L733.75 179.66L734.5 179.04L735.25 175.62L736 171.07L736.75 179.66L737.5 174.99L738.25 175.25L739 176.37L739.75 178.68L740.5 177.05L741.25 177.76L742 178.48L742.75 178.12L743.5 179.47L744.25 174.55L745 175.82L745.75 179.44L746.5 176.47L747.25 177.82L748 174.19L748.75 177.61L749.5 178.21L750.25 179.49L751 173.2L751.75 176.73L752.5 176.53L753.25 179.01L754 177.76L754.75 178.05L755.5 177.96L756.25 174.8L757 179.48L757.75 179.08L758.5 178.43L759.25 177.32L760 173.34L760.75 175.96L761.5 179.59L762.25 178.16L763 178.84L763.75 179.4L764.5 179.84L765.25 178.3L766 177.36L766.75 175.39L767.5 176.11L768.25 179.54L769 178.62L769.75 178.62L770.5 177.96L771.25 173.59L772 178.38L772.75 173.33L773.5 178.75L774.25 179.07L775 176.3L775.75 179.82L776.5 178.6L777.25 179.1L778 178.33L778.75 179.35L779.5 177.76L780.25 174.52L781 179.35L781.75 174.22L782.5 171.04L783.25 179.84L784 178.05L784.75 178.93L785.5 176.29L786.25 177.79L787 178.99L787.75 178.46L788.5 170.62L789.25 179.07L790 178.91L790.75 178.45L791.5 179.46L792.25 175.65L793 179.25L793.75 171.79L794.5 176.38L795.25 177.78L796 176.26L796.75 173.69L797.5 177.94L798.25 173.07L799 176.37L799.75 179.35L800.5 174.23L801.25 172.11L802 178.01L802.75 179.02L803.5 176.89L804.25 179.39L805 177.79L805.75 177.74L806.5 170.95L807.25 177.83L808 179.72L808.75 175.56L809.5 179.12L810.25 176.98L811 178.74L811.75 174.53L812.5 175.21L813.25 177.37L814 179.5L814.75 176.08L815.5 176.38L816.25 177.02L817 174.56L817.75 178.21L818.5 177.6L819.25 179.63L820 176.92L820.75 173.74L821.5 179.65L822.25 177.83L823 178.97L823.75 179.74L824.5 177.87L825.25 177.14L826 173.83L826.75 172.26L827.5 179.21L828.25 179.85L829 178.95L829.75 175.73L830.5 173.64L831.25 175.92L832 177.87L832.75 176.39L833.5 176.23L834.25 174.49L835 178.7L835.75 176.08L836.5 174.94L837.25 176.9L838 176.5L838.75 176.5L839.5 177.88L840.25 175.28L841 177.1L841.75 174.97L842.5 179.74L843.25 178.67L844 177.73L844.75 174.56L845.5 179.11L846.25 178.4L847 177.08L847.75 179.77L848.5 179.38L849.25 172.4L850 178.95L850.75 173.98L851.5 179.81L852.25 175.04L853 173.24L853.75 178.82L854.5 177.06L855.25 176.87L856 175.53L856.75 172.37L857.5 178.81L858.25 176.94L859 179.6L859.75 177.31L860.5 176.81L861.25 174.98L862 178.95L862.75 173.41L863.5 178.02L864.25 173.2L865 179.13L865.75 178.37L866.5 178.52L867.25 176.96L868 179.6L868.75 172.58L869.5 177.08L870.25 174.66L871 175.62L871.75 174.9L872.5 178.85L873.25 170.05L874 178.97L874.75 179.69L875.5 176.61L876.25 178.77L877 179.44L877.75 176.8L878.5 179.48L879.25 179.12L880 173.48L880.75 176.07L881.5 178.33L882.25 178.92L883 179.88L883.75 174.95L884.5 177.03L885.25 179.11L886 179.06L886.75 179.14L887.5 178.26L888.25 178.02L889 175.21L889.75 178.85L890.5 176.22L891.25 179.8L892 174.98L892.75 175.29L893.5 178.19L894.25 178.47L895 179.14L895.75 175.96L896.5 176.14L897.25 175.54L898 176.61L898.75 179.06L899.5 173.67L900.25 179.58L901 175.66L901.75 176.13L902.5 178.68L903.25 178.64L904 177.83L904.75 178.28L905.5 179.76L906.25 179L907 171.07L907.75 178.48L908.5 179.62L909.25 176.28L910 173.15L910.75 177.7L911.5 179.64L912.25 176.72L913 179.61L913.75 177.33L914.5 175.73L915.25 176.99L916 179.12L916.75 177.21L917.5 173.76L918.25 179.06L919 178.11L919.75 177.62L920.5 178.72L921.25 177.75L922 177.17L922.75 176.37L923.5 177.51L924.25 175.97L925 178.4L925.75 178.64L926.5 178.63L927.25 179.76L928 175.86L928.75 179.8L929.5 173.75L930.25 179.07L931 177.55L931.75 174.92L932.5 177.29L933.25 176.73L934 174.35L934.75 178.29L935.5 176.59L936.25 176.01L937 176.07L937.75 179.77L938.5 179.75L939.25 179.33L940 174.64L940.75 178.75L941.5 176.41L942.25 175.73L943 173.86L943.75 178.79L944.5 173.73L945.25 177.7L946 175.41L946.75 177.39L947.5 178.74L948.25 178.19L949 179.56L949.75 175.91L950.5 179.05L951.25 178.97L952 176.72L952.75 179.05L953.5 178.54L954.25 175.68L955 178.55L955.75 177.8L956.5 178.12L957.25 175.06L958 178.07L958.75 173.76L959.5 176.9L960.25 179.87L961 176.24L961.75 177.88L962.5 174.89L963.25 176.94L964 177.89L964.75 179.88L965.5 177.17L966.25 177.31L967 176.88L967.75 176.94L968.5 178.82L969.25 177.93L970 178.29L970.75 179.34L971.5 175.42L972.25 179.68L973 176.85L973.75 176.99L974.5 178.06L975.25 177.44L976 178.75L976.75 173.92L977.5 176.74L978.25 175.85L979 175.01L979.75 179.44L980.5 175.96L981.25 176.35L982 174.07L982.75 178.75L983.5 176.35L984.25 175.37L985 178.93L985.75 177.74L986.5 177L987.25 173.45L988 173.91L988.75 177.21L989.5 178.96L990.25 178.58L991 178.46L991.75 176.97L992.5 177.18L993.25 177.31L994 178.93L994.75 177.63L995.5 179.16L996.25 176.58L997 177.27L997.75 176.77L998.5 179.4L999.25 176.13L1000 178.48L1000.75 176.51L1001.5 173.64L1002.25 177.63L1003 179.03L1003.75 179.87L1004.5 177.16L1005.25 176.56L1006 174.14L1006 190.22L1005.25 192.03L1004.5 190.73L1003.75 191.63L1003 189.64L1002.25 197.58L1001.5 195.44L1000.75 192.73L1000 191.97L999.25 196.19L998.5 190.77L997.75 190.6L997 196.49L996.25 195.17L995.5 193.76L994.75 191.43L994 194.74L993.25 193.64L992.5 191.07L991.75 191.9L991 190.53L990.25 189.98L989.5 189.44L988.75 191.12L988 192.65L987.25 190.11L986.5 189.54L985.75 191.12L985 193L984.25 193.73L983.5 189.88L982.75 190.25L982 190.65L981.25 190.05L980.5 194.46L979.75 189.82L979 189.65L978.25 191.2L977.5 190.82L976.75 191.18L976 190.2L975.25 194.3L974.5 190.1L973.75 195.86L973 195.47L972.25 195.7L971.5 190.29L970.75 197.84L970 193.14L969.25 189.51L968.5 191.06L967.75 194.55L967 190.55L966.25 189.47L965.5 191.61L964.75 192.53L964 190.68L963.25 191.3L962.5 191.95L961.75 191.17L961 195.05L960.25 190.33L959.5 193.55L958.75 190.84L958 194.19L957.25 196.63L956.5 192.38L955.75 192.91L955 189.48L954.25 190.7L953.5 191.31L952.75 193.38L952 190.35L951.25 191.86L950.5 191.15L949.75 193.65L949 189.5L948.25 189.9L947.5 189.48L946.75 191.48L946 189.47L945.25 194.09L944.5 194.02L943.75 190.97L943 191.74L942.25 190.11L941.5 189.88L940.75 191.44L940 193.51L939.25 194.89L938.5 192.63L937.75 190.32L937 194.39L936.25 196.11L935.5 191.52L934.75 192.86L934 189.74L933.25 191.97L932.5 193.56L931.75 192.77L931 192.46L930.25 190.08L929.5 189.93L928.75 190.84L928 192.73L927.25 192.39L926.5 192.12L925.75 189.54L925 190.47L924.25 191.65L923.5 189.57L922.75 197.01L922 192.36L921.25 194.11L920.5 195.83L919.75 194.65L919 191.76L918.25 190.63L917.5 196.17L916.75 192.67L916 191.04L915.25 196.9L914.5 189.59L913.75 194.34L913 189.58L912.25 190.15L911.5 190.9L910.75 190.19L910 193.54L909.25 189.68L908.5 192.65L907.75 190.68L907 192.21L906.25 194.88L905.5 191.52L904.75 191.98L904 190.89L903.25 197.07L902.5 191.75L901.75 191.27L901 190.08L900.25 190.7L899.5 190.56L898.75 190.3L898 193.91L897.25 193.57L896.5 191.97L895.75 189.46L895 191.79L894.25 190.14L893.5 194.19L892.75 194.05L892 191.18L891.25 193.02L890.5 189.57L889.75 190.25L889 189.69L888.25 192.03L887.5 193.91L886.75 191.87L886 191.83L885.25 190.73L884.5 193.94L883.75 191.29L883 192.1L882.25 190.19L881.5 192.01L880.75 192.54L880 192.54L879.25 189.82L878.5 194.07L877.75 192.15L877 191.93L876.25 192.23L875.5 190.2L874.75 195.02L874 191.84L873.25 192.21L872.5 195.04L871.75 191.35L871 192.76L870.25 191.9L869.5 189.85L868.75 190.36L868 196.18L867.25 192.64L866.5 197.69L865.75 191.59L865 192.67L864.25 191.41L863.5 192.75L862.75 193.71L862 191.92L861.25 192.32L860.5 190.47L859.75 190.25L859 193.66L858.25 191.62L857.5 192.09L856.75 194.73L856 195.44L855.25 191.59L854.5 189.98L853.75 189.62L853 192.61L852.25 190.66L851.5 190.56L850.75 189.66L850 194.16L849.25 193.4L848.5 193.85L847.75 193.54L847 189.98L846.25 191.98L845.5 191.19L844.75 190.23L844 192.19L843.25 190.24L842.5 191.21L841.75 189.83L841 193.36L840.25 195.29L839.5 192.84L838.75 190.64L838 189.77L837.25 190.5L836.5 195.86L835.75 199.22L835 191.91L834.25 193.64L833.5 191.25L832.75 192.83L832 189.85L831.25 190.18L830.5 190.19L829.75 191.48L829 194.62L828.25 191.11L827.5 190.96L826.75 194.21L826 195.63L825.25 193.42L824.5 189.94L823.75 191.37L823 190.83L822.25 192.58L821.5 195.45L820.75 191.57L820 193.49L819.25 192.48L818.5 193.19L817.75 195.52L817 191.01L816.25 190.5L815.5 190.22L814.75 189.95L814 193.21L813.25 192.29L812.5 190.56L811.75 191.69L811 192.08L810.25 189.5L809.5 191.2L808.75 190.3L808 189.78L807.25 190.17L806.5 189.44L805.75 190.26L805 197.05L804.25 190.73L803.5 190.21L802.75 192.28L802 189.76L801.25 189.89L800.5 190.47L799.75 191.19L799 190.24L798.25 191.72L797.5 191.53L796.75 192.11L796 194.74L795.25 190.91L794.5 189.84L793.75 193.68L793 191.6L792.25 192.05L791.5 191.9L790.75 192.96L790 192.22L789.25 194.25L788.5 192.18L787.75 191.37L787 190.19L786.25 190.21L785.5 192.69L784.75 192.34L784 193.13L783.25 192.12L782.5 194.94L781.75 192.92L781 193.02L780.25 190.73L779.5 190.84L778.75 193.91L778 194.68L777.25 192.93L776.5 195.85L775.75 190.04L775 195.99L774.25 191.68L773.5 189.86L772.75 190.54L772 190.74L771.25 190.73L770.5 191.34L769.75 189.77L769 193.2L768.25 192.66L767.5 192.78L766.75 191.2L766 191.09L765.25 192.6L764.5 192.99L763.75 195.35L763 190.09L762.25 190.38L761.5 194.68L760.75 193.86L760 193.73L759.25 190.65L758.5 194.28L757.75 190.77L757 190L756.25 191L755.5 189.65L754.75 189.82L754 191.31L753.25 191.01L752.5 192.79L751.75 189.51L751 189.99L750.25 189.89L749.5 189.98L748.75 192.31L748 189.89L747.25 192.7L746.5 189.76L745.75 194.37L745 192.27L744.25 191.34L743.5 191.65L742.75 192.1L742 191.59L741.25 191.4L740.5 194.92L739.75 193.81L739 195.59L738.25 190.79L737.5 192.73L736.75 191.01L736 196.47L735.25 189.61L734.5 189.52L733.75 192.1L733 189.55L732.25 190.04L731.5 189.98L730.75 192.96L730 196.87L729.25 191.66L728.5 195L727.75 196.07L727 194.59L726.25 189.9L725.5 192.05L724.75 189.79L724 201.62L723.25 192.13L722.5 191.26L721.75 190.76L721 190.83L720.25 195.35L719.5 192.99L718.75 189.59L718 190.88L717.25 191.84L716.5 193.14L715.75 191.33L715 192.01L714.25 193.56L713.5 192.35L712.75 193.1L712 192.65L711.25 192.08L710.5 191.23L709.75 197.01L709 190.79L708.25 192.64L707.5 192.58L706.75 190.1L706 194.6L705.25 191.88L704.5 189.46L703.75 194.88L703 191.47L702.25 189.98L701.5 192.43L700.75 194.12L700 194.9L699.25 191.28L698.5 191.41L697.75 192.53L697 189.95L696.25 190.59L695.5 195.03L694.75 191.66L694 190.38L693.25 191.77L692.5 190.58L691.75 190.69L691 193.57L690.25 192.69L689.5 189.89L688.75 190.81L688 192.5L687.25 191.22L686.5 189.45L685.75 190.77L685 190.1L684.25 190.14L683.5 194.64L682.75 193.78L682 192.36L681.25 190.68L680.5 193.52L679.75 192.23L679 191.26L678.25 189.43L677.5 190.06L676.75 191.52L676 192.55L675.25 189.88L674.5 190.52L673.75 192.69L673 190.81L672.25 195.05L671.5 191.31L670.75 189.76L670 190.26L669.25 194.9L668.5 192.06L667.75 191.06L667 194.16L666.25 194.78L665.5 193.5L664.75 191.93L664 193.89L663.25 192.72L662.5 191.03L661.75 190.24L661 200.34L660.25 194.41L659.5 189.66L658.75 190.81L658 193.26L657.25 191.24L656.5 192.67L655.75 192.85L655 190.5L654.25 189.6L653.5 193.03L652.75 190.71L652 190.2L651.25 193.08L650.5 191.61L649.75 191.65L649 193.82L648.25 192.67L647.5 189.85L646.75 192.11L646 192.84L645.25 194.12L644.5 191.23L643.75 193.04L643 191.93L642.25 190.45L641.5 189.85L640.75 191.85L640 189.87L639.25 196.7L638.5 195.5L637.75 192.44L637 194.62L636.25 192.34L635.5 190.8L634.75 190.01L634 191.59L633.25 195.62L632.5 192.85L631.75 192.79L631 194.55L630.25 192.87L629.5 189.92L628.75 193.84L628 190.25L627.25 191L626.5 191L625.75 190.22L625 189.61L624.25 191.13L623.5 191.82L622.75 196.3L622 194.67L621.25 190.77L620.5 189.79L619.75 192.04L619 190.75L618.25 192.49L617.5 191.66L616.75 191.36L616 192.72L615.25 190.77L614.5 196.64L613.75 189.82L613 193.55Z" fill="#b422b4"/>
<path d="M613 179.61L613.75 179.85L614.5 180.25L615.25 179.58L616 180L616.75 179.28L617.5 179.79L618.25 180.08L619 179.32L619.75 179.11L620.5 178.63L621.25 179.06L622 176.36L622.75 179.12L623.5 178.23L624.25 178.98L625 179.95L625.75 178.59L626.5 179.55L627.25 178.56L628 180.21L628.75 179.58L629.5 178.32L630.25 178.32L631 179.58L631.75 177.32L632.5 179.57L633.25 179.56L634 179.04L634.75 178.7L635.5 179.68L636.25 179.7L637 177.81L637.75 179.72L638.5 180.09L639.25 178.55L640 178.73L640.75 179.06L641.5 179.81L642.25 179.88L643 179.02L643.75 178.04L644.5 178.67L645.25 178.24L646 178.7L646.75 179.68L647.5 178.92L648.25 177.49L649 179.79L649.75 179.57L650.5 180.12L651.25 179.24L652 180.03L652.75 179.97L653.5 179.43L654.25 179.54L655 179.3L655.75 179.99L656.5 178.48L657.25 178.69L658 178.66L658.75 180.13L659.5 178.1L660.25 179.32L661 179.86L661.75 179.29L662.5 179.42L663.25 179.17L664 179.91L664.75 180.24L665.5 176.96L666.25 179.17L667 179.62L667.75 179.77L668.5 180.06L669.25 179.94L670 179.9L670.75 179.38L671.5 179.64L672.25 179.86L673 177.06L673.75 179.32L674.5 179.01L675.25 179.39L676 180.05L676.75 178.62L677.5 179.17L678.25 180.3L679 179.76L679.75 179.99L680.5 179.08L681.25 179.89L682 178.81L682.75 179.81L683.5 180.04L684.25 179.86L685 178.32L685.75 179.94L686.5 180.22L687.25 178.94L688 180.13L688.75 179.65L689.5 178.67L690.25 177.82L691 178.95L691.75 178.72L692.5 179.99L693.25 177.82L694 179.01L694.75 180.17L695.5 179.77L696.25 178.92L697 179.54L697.75 179.29L698.5 179.22L699.25 176.71L700 178.97L700.75 177.75L701.5 180.28L702.25 179.74L703 178.96L703.75 180.1L704.5 179.75L705.25 179.8L706 179.59L706.75 178.48L707.5 179.43L708.25 177.58L709 178.88L709.75 178.34L710.5 180.08L711.25 179.84L712 178.98L712.75 179.01L713.5 180L714.25 180.08L715 179.53L715.75 180.03L716.5 179.82L717.25 179.62L718 178.71L718.75 177.68L719.5 178.34L720.25 180.11L721 180.26L721.75 178.21L722.5 179.42L723.25 179.71L724 179.65L724.75 179.63L725.5 180.12L726.25 179.22L727 179.41L727.75 179.6L728.5 180.01L729.25 179.3L730 179.6L730.75 179.47L731.5 180.22L732.25 179.33L733 180.02L733.75 180.29L734.5 179.8L735.25 178.23L736 180.02L736.75 179.47L737.5 179.27L738.25 179.36L739 180.07L739.75 179.67L740.5 179.76L741.25 179.44L742 179.95L742.75 180.24L743.5 180.15L744.25 179.37L745 179.79L745.75 180.27L746.5 179.66L747.25 178.96L748 180.16L748.75 179.84L749.5 179.15L750.25 178.35L751 179.23L751.75 179.43L752.5 179.91L753.25 177.99L754 180.17L754.75 178.15L755.5 180.06L756.25 179.52L757 178L757.75 179.38L758.5 178.21L759.25 179.74L760 178.45L760.75 180.17L761.5 178.1L762.25 179.25L763 179.47L763.75 178.44L764.5 179.7L765.25 178.77L766 178.99L766.75 179.32L767.5 179.81L768.25 179.38L769 179.86L769.75 180.23L770.5 177.62L771.25 178.57L772 179.42L772.75 178.43L773.5 179.81L774.25 178.25L775 176.33L775.75 179.79L776.5 178.67L777.25 179.64L778 180.04L778.75 179.79L779.5 179.07L780.25 179.28L781 178.13L781.75 179.17L782.5 179.85L783.25 177.86L784 177.86L784.75 177.83L785.5 178.87L786.25 180.29L787 178.72L787.75 179.42L788.5 178.42L789.25 177.16L790 179.76L790.75 178.29L791.5 179.91L792.25 179.25L793 177.12L793.75 177.89L794.5 180.06L795.25 178.05L796 179.59L796.75 179.11L797.5 178.29L798.25 177.36L799 177.89L799.75 178.52L800.5 179.96L801.25 179.47L802 179.95L802.75 177.63L803.5 179.85L804.25 180.12L805 179.73L805.75 178.86L806.5 180.15L807.25 179.63L808 178.25L808.75 178.76L809.5 179.13L810.25 178.5L811 178.76L811.75 179.85L812.5 179.83L813.25 179.61L814 179.89L814.75 179.57L815.5 178.86L816.25 180.09L817 179.67L817.75 179.57L818.5 179.83L819.25 179.43L820 180.03L820.75 179.18L821.5 179.95L822.25 180.2L823 179.83L823.75 179.89L824.5 179.06L825.25 179.86L826 178.75L826.75 178.58L827.5 178.42L828.25 179.82L829 179.36L829.75 179.81L830.5 180.18L831.25 178.72L832 177.47L832.75 180.13L833.5 177.71L834.25 179.6L835 178.74L835.75 179.92L836.5 178.67L837.25 179.68L838 178.62L838.75 178.25L839.5 180.21L840.25 180.02L841 179.53L841.75 178.88L842.5 179.56L843.25 179.09L844 177.95L844.75 180.17L845.5 179.03L846.25 180.08L847 179.74L847.75 179.79L848.5 180L849.25 179.55L850 180.17L850.75 178.86L851.5 180.06L852.25 179.45L853 179.46L853.75 179.37L854.5 176.17L855.25 178.43L856 179.85L856.75 177.91L857.5 179.57L858.25 180.04L859 179.09L859.75 180.19L860.5 178.32L861.25 179.11L862 179.79L862.75 178.19L863.5 178.94L864.25 179.43L865 178.97L865.75 180.1L866.5 179.9L867.25 179.1L868 179.89L868.75 179.74L869.5 180L870.25 178.51L871 179.56L871.75 180.08L872.5 179.84L873.25 179.18L874 180.15L874.75 179.8L875.5 179.53L876.25 180.29L877 179.99L877.75 179.4L878.5 179.9L879.25 179.31L880 180.26L880.75 179.55L881.5 179.38L882.25 179.37L883 179.5L883.75 179.43L884.5 179.78L885.25 180.03L886 179.89L886.75 180.14L887.5 178.01L888.25 180.28L889 179.84L889.75 179.66L890.5 179.91L891.25 180.26L892 177.95L892.75 178.35L893.5 176.44L894.25 180L895 178.19L895.75 178.02L896.5 178.83L897.25 179.45L898 178.66L898.75 179.9L899.5 177.74L900.25 178.45L901 179.84L901.75 179.79L902.5 178.07L903.25 179.69L904 179.2L904.75 178.21L905.5 180.11L906.25 179.04L907 179.26L907.75 180.28L908.5 179.31L909.25 179.75L910 179.34L910.75 180.23L911.5 179.9L912.25 180.04L913 180.29L913.75 179.8L914.5 179.98L915.25 178.69L916 179.43L916.75 178.48L917.5 177.36L918.25 179.36L919 180.28L919.75 178.5L920.5 180.1L921.25 178.71L922 178.5L922.75 179.87L923.5 179.71L924.25 179.16L925 179.89L925.75 179.73L926.5 179.63L927.25 178.37L928 179.32L928.75 175.59L929.5 179.82L930.25 178.61L931 177.78L931.75 179.05L932.5 179.85L933.25 179.3L934 178.5L934.75 176.92L935.5 179.64L936.25 179.83L937 179.45L937.75 180.09L938.5 180.02L939.25 179.61L940 179.59L940.75 178.79L941.5 177.62L942.25 179.08L943 178.75L943.75 180.14L944.5 179.67L945.25 179.59L946 179.29L946.75 178.61L947.5 179.32L948.25 179.64L949 178.1L949.75 178.75L950.5 178.28L951.25 178.68L952 179.32L952.75 178.65L953.5 177.85L954.25 179.91L955 177.36L955.75 178.88L956.5 178.6L957.25 180.29L958 179.13L958.75 178.69L959.5 179.64L960.25 180.28L961 179.69L961.75 179.9L962.5 179.7L963.25 178.94L964 179.32L964.75 177.42L965.5 179.87L966.25 179.95L967 179.61L967.75 179.82L968.5 180.01L969.25 179.26L970 178.94L970.75 180.23L971.5 179.8L972.25 178.66L973 179.07L973.75 178.24L974.5 178.94L975.25 179.34L976 179.36L976.75 179.76L977.5 178.47L978.25 178.81L979 177.14L979.75 179.92L980.5 178.5L981.25 178.16L982 179.5L982.75 178.7L983.5 179.96L984.25 179.47L985 180.28L985.75 178.78L986.5 179.3L987.25 179.55L988 179.7L988.75 178.88L989.5 178.11L990.25 178.64L991 179.65L991.75 177.96L992.5 179.44L993.25 177.99L994 179.49L994.75 180.06L995.5 179.01L996.25 179.1L997 179.5L997.75 180.08L998.5 180.13L999.25 179.96L1000 179.54L1000.75 179.86L1001.5 178.59L1002.25 178.09L1003 178.75L1003.75 179.23L1004.5 180.14L1005.25 179.75L1006 179.02L1006 190.07L1005.25 190.77L1004.5 190.47L1003.75 189.94L1003 189.47L1002.25 190.77L1001.5 189.05L1000.75 190.03L1000 190.58L999.25 189.86L998.5 191.81L997.75 190.75L997 189.03L996.25 189.98L995.5 189.14L994.75 191.62L994 190.69L993.25 189.55L992.5 189.76L991.75 190.93L991 189.69L990.25 189.66L989.5 190.82L988.75 189.33L988 189.06L987.25 190.09L986.5 189.06L985.75 190.57L985 190.55L984.25 191.85L983.5 191.72L982.75 189.56L982 189.62L981.25 189.04L980.5 189.65L979.75 190.01L979 189.64L978.25 189.64L977.5 191.38L976.75 191.1L976 189.53L975.25 190.8L974.5 189.69L973.75 189.2L973 189.73L972.25 189.8L971.5 189.97L970.75 189.95L970 190.56L969.25 189.21L968.5 189.05L967.75 189.44L967 189.1L966.25 189.89L965.5 190.53L964.75 191.49L964 190.31L963.25 189.9L962.5 189.04L961.75 190.73L961 189.15L960.25 189.23L959.5 189.37L958.75 190.37L958 190.44L957.25 190.13L956.5 189.69L955.75 189.48L955 190.94L954.25 189.52L953.5 189.71L952.75 189.18L952 189.32L951.25 189.77L950.5 189.29L949.75 190.88L949 189.62L948.25 190.05L947.5 191.22L946.75 189.19L946 191.63L945.25 189.38L944.5 191.44L943.75 190.12L943 189.28L942.25 190.77L941.5 189.18L940.75 189.35L940 192.09L939.25 190.51L938.5 190.02L937.75 189.69L937 191.57L936.25 189.5L935.5 190.3L934.75 190.56L934 189.91L933.25 189.37L932.5 189.12L931.75 189.99L931 189.28L930.25 190.3L929.5 190.06L928.75 189.22L928 191.14L927.25 189.1L926.5 190.82L925.75 189.97L925 190.38L924.25 190.34L923.5 189.4L922.75 190.89L922 189.59L921.25 189.93L920.5 190.24L919.75 190.38L919 190.36L918.25 189.05L917.5 190.13L916.75 190.94L916 192.18L915.25 190.41L914.5 189.61L913.75 190.03L913 191.13L912.25 190.91L911.5 190.53L910.75 189.63L910 189.64L909.25 189.77L908.5 190.67L907.75 191.47L907 189.08L906.25 189.98L905.5 190.06L904.75 189.12L904 189.01L903.25 191.71L902.5 190.56L901.75 190.89L901 189.85L900.25 190.43L899.5 191.71L898.75 190.05L898 189.14L897.25 191.1L896.5 189.88L895.75 189.51L895 189.16L894.25 189.98L893.5 190.97L892.75 189.11L892 189.47L891.25 190.58L890.5 189.55L889.75 191.7L889 190.19L888.25 189.39L887.5 190.44L886.75 189.33L886 189.8L885.25 189.55L884.5 190.65L883.75 192.54L883 189.62L882.25 189.26L881.5 189.74L880.75 190.83L880 191.01L879.25 189.97L878.5 189.92L877.75 191.78L877 189.15L876.25 189.33L875.5 191.03L874.75 189.67L874 189.15L873.25 189.56L872.5 189.04L871.75 191.37L871 189.28L870.25 189.52L869.5 190.25L868.75 190.7L868 190.9L867.25 190.52L866.5 190.96L865.75 189.98L865 190.46L864.25 190.58L863.5 189.74L862.75 191.13L862 189.45L861.25 190.03L860.5 190.6L859.75 189.17L859 189.86L858.25 190.15L857.5 189.48L856.75 189.64L856 190.04L855.25 189.33L854.5 189.23L853.75 189.14L853 189.23L852.25 190.94L851.5 190.5L850.75 189.35L850 190.54L849.25 189.33L848.5 190.9L847.75 191.21L847 190.27L846.25 190.02L845.5 189.06L844.75 189.06L844 189.42L843.25 191.51L842.5 189.89L841.75 189.4L841 189.1L840.25 190.27L839.5 189.26L838.75 190.81L838 189.06L837.25 189.94L836.5 189.11L835.75 189.81L835 190.57L834.25 189.1L833.5 190.23L832.75 189.38L832 189.64L831.25 189.77L830.5 189.32L829.75 189.04L829 189.51L828.25 189.01L827.5 190.63L826.75 189.28L826 190.43L825.25 189.15L824.5 189.25L823.75 191.17L823 190.32L822.25 190.38L821.5 189.74L820.75 190.83L820 189.34L819.25 191.1L818.5 190.29L817.75 190.22L817 190.43L816.25 190.02L815.5 189.94L814.75 189.46L814 190.24L813.25 190.4L812.5 189.44L811.75 189.38L811 190.16L810.25 190.9L809.5 189.5L808.75 189.26L808 189.62L807.25 190.3L806.5 190.79L805.75 189.73L805 189.53L804.25 191.61L803.5 189.15L802.75 189.63L802 189.97L801.25 190.16L800.5 190L799.75 189.84L799 189.88L798.25 190.78L797.5 190.59L796.75 189.58L796 190.41L795.25 189.5L794.5 189.26L793.75 189.54L793 189.27L792.25 189.3L791.5 189.58L790.75 190.93L790 189.18L789.25 190.37L788.5 191.12L787.75 191.43L787 190.52L786.25 189.64L785.5 189.01L784.75 189.48L784 190.47L783.25 190.25L782.5 189.92L781.75 191.32L781 189.94L780.25 189.77L779.5 189.2L778.75 190.54L778 189.2L777.25 189.34L776.5 189.66L775.75 190.38L775 189.67L774.25 190.9L773.5 190.17L772.75 191.3L772 189.01L771.25 189.7L770.5 190.81L769.75 189.22L769 189.97L768.25 189.93L767.5 191.19L766.75 190.09L766 190.6L765.25 189.5L764.5 189.08L763.75 189.65L763 190.54L762.25 189.41L761.5 190L760.75 190.68L760 189.64L759.25 190.06L758.5 191L757.75 189.16L757 189.75L756.25 189.47L755.5 192L754.75 189.12L754 191.34L753.25 189.8L752.5 189.3L751.75 189.64L751 189.29L750.25 191L749.5 190.19L748.75 190.09L748 190.29L747.25 189.36L746.5 190.51L745.75 189.96L745 191.06L744.25 189.91L743.5 189.92L742.75 189.04L742 189.56L741.25 189.25L740.5 192.12L739.75 191.59L739 190.78L738.25 189.33L737.5 189.65L736.75 189.54L736 189.35L735.25 189.84L734.5 190.51L733.75 190.7L733 190.07L732.25 190.29L731.5 189.56L730.75 189.37L730 190.69L729.25 189.24L728.5 189.73L727.75 189.42L727 189.62L726.25 189.64L725.5 189.68L724.75 189.86L724 189.34L723.25 190.3L722.5 190.76L721.75 189.5L721 191.14L720.25 190.47L719.5 190.07L718.75 190.2L718 189.03L717.25 189.48L716.5 189.07L715.75 189.45L715 189.66L714.25 189.78L713.5 189.69L712.75 189.74L712 190.7L711.25 189.52L710.5 189.84L709.75 189.56L709 189.84L708.25 189.79L707.5 191.39L706.75 190.82L706 189.04L705.25 189.04L704.5 189.23L703.75 189.47L703 190.98L702.25 190.5L701.5 189.26L700.75 189.79L700 191.88L699.25 191.64L698.5 190.68L697.75 189.12L697 189.39L696.25 190.03L695.5 191.3L694.75 190.91L694 189.44L693.25 190.49L692.5 189.49L691.75 191.01L691 190.6L690.25 190.45L689.5 191.71L688.75 189.07L688 189.26L687.25 190.51L686.5 189.23L685.75 189.36L685 189.15L684.25 191.24L683.5 189.18L682.75 189.72L682 189.17L681.25 190.71L680.5 191.61L679.75 190.64L679 190.71L678.25 191.63L677.5 190.3L676.75 190.86L676 189.68L675.25 191.47L674.5 189.08L673.75 190.02L673 189.04L672.25 190.39L671.5 190.24L670.75 190.2L670 189.43L669.25 189.53L668.5 189.13L667.75 190.1L667 190.84L666.25 189.42L665.5 190.44L664.75 190.08L664 192.05L663.25 189.09L662.5 189.91L661.75 189.54L661 189.61L660.25 190.13L659.5 189.54L658.75 190.23L658 189.96L657.25 189.75L656.5 192.34L655.75 189.36L655 189.06L654.25 190.27L653.5 189.56L652.75 189.93L652 192.91L651.25 190.08L650.5 190.69L649.75 190.38L649 190.05L648.25 189.73L647.5 191.57L646.75 190.27L646 189.43L645.25 190.76L644.5 190.27L643.75 189.8L643 189.68L642.25 189.82L641.5 190.25L640.75 190.66L640 191.09L639.25 190.49L638.5 189.55L637.75 189.96L637 189.06L636.25 190.35L635.5 190.42L634.75 190.16L634 191.02L633.25 190.02L632.5 189.69L631.75 191.5L631 189.86L630.25 189.61L629.5 189.98L628.75 189.58L628 190.12L627.25 189.01L626.5 189.74L625.75 190.89L625 190.81L624.25 189.38L623.5 190.15L622.75 189.93L622 189.82L621.25 189.1L620.5 190.91L619.75 189.33L619 190.05L618.25 189.26L617.5 189.99L616.75 190.12L616 190.69L615.25 189.89L614.5 189.38L613.75 189.31L613 189.4Z" fill="#fb38fb"/>
<path d="M613 212.27L614.5 211.4L616 213.06L617.5 212.94L619 212.88L620.5 211.37L622 212.35L623.5 212.95L625 211.78L626.5 211.9L628 212.18L629.5 211.29L631 212.41L632.5 212.79L634 212.63L635.5 213.05L637 212.35L638.5 212.28L640 212.2L641.5 211.95L643 211.76L644.5 211.93L646 212.26L647.5 212.03L649 212.35L650.5 212.34L652 212.62L653.5 212.04L655 211.26L656.5 211.82L658 213.25L659.5 212.67L661 212.09L662.5 212.2L664 212.25L665.5 212.06L667 212.4L668.5 212.64L670 212.91L671.5 212.12L673 212.15L674.5 212.13L676 212.31L677.5 212.83L679 211.92L680.5 213.4L682 212.58L683.5 212.86L685 211.85L686.5 212.11L688 212.04L689.5 212.32L691 211.28L692.5 212.55L694 211.46L695.5 212.49L697 212.81L698.5 212.28L700 212.22L701.5 212.22L703 212.2L704.5 212.44L706 212.77L707.5 212.64L709 213.07L710.5 212.37L712 212.07L713.5 212.09L715 211.71L716.5 212.13L718 212.03L719.5 213.22L721 212.6L722.5 213.23L724 211.38L725.5 212.49L727 212.85L728.5 212.5L730 212.11L731.5 212.43L733 212.39L734.5 212.41L736 212.48L737.5 212.82L739 212.46L740.5 212.49L742 212.36L743.5 212.58L745 212L746.5 212.64L748 212.19L749.5 212.78L751 212.06L752.5 212.33L754 212.27L755.5 211.85L757 212.88L758.5 212.55L760 212.38L761.5 212.97L763 212.2L764.5 212.35L766 212.91L767.5 213.58L769 212.4L770.5 213.17L772 212.45L773.5 211.97L775 212.61L776.5 212.98L778 212.46L779.5 212.59L781 211.82L782.5 211.23L784 212.48L785.5 211.64L787 212.31L788.5 212.01L790 212.4L791.5 212.75L793 211.48L794.5 212.23L796 212.23L797.5 212.97L799 212.33L800.5 211.89L802 212.01L803.5 213.19L805 211.86L806.5 212.32L808 212.43L809.5 211.73L811 211.89L812.5 211.31L814 211.84L815.5 212.62L817 212.4L818.5 211.36L820 213.01L821.5 211.64L823 211.82L824.5 213.1L826 212.53L827.5 212.26L829 213.04L830.5 212.26L832 212.47L833.5 212.02L835 212.24L836.5 212.26L838 212.85L839.5 211.99L841 212.2L842.5 211.22L844 211.45L845.5 212.64L847 212.1L848.5 212.12L850 212.6L851.5 212.13L853 212.34L854.5 212.15L856 211.29L857.5 212.6L859 213.03L860.5 212.88L862 212.32L863.5 212.42L865 212.48L866.5 213.04L868 212.88L869.5 212.11L871 212.22L872.5 212.18L874 211.99L875.5 211.97L877 212.21L878.5 211.08L880 212.46L881.5 212.04L883 211.66L884.5 212.17L886 211.89L887.5 212.86L889 211.71L890.5 212.29L892 212.43L893.5 211.84L895 211.65L896.5 212.45L898 212.06L899.5 211.79L901 211.55L902.5 212.56L904 213L905.5 212L907 212.52L908.5 212.8L910 212.76L911.5 211.98L913 212.53L914.5 212.61L916 213.52L917.5 212.38L919 212.79L920.5 212.68L922 212.6L923.5 211.8L925 212.43L926.5 213.03L928 212.11L929.5 212.41L931 211.92L932.5 212.43L934 212.47L935.5 212.64L937 212.11L938.5 212.1L940 212.03L941.5 212.44L943 212.39L944.5 213.4L946 212L947.5 212.64L949 212.04L950.5 212.08L952 212.83L953.5 212.51L955 212.56L956.5 211.66L958 213.57L959.5 213.32L961 211.96L962.5 211.66L964 211.96L965.5 212.42L967 211.86L968.5 212.44L970 211.99L971.5 213.64L973 212.2L974.5 212.09L976 213.28L977.5 212.47L979 212.31L980.5 212.29L982 212.58L983.5 212.1L985 212.36L986.5 212.04L988 211.65L989.5 212.15L991 212.39L992.5 213.08L994 212.41L995.5 212.14L997 212.37L998.5 212.59L1000 211.22L1001.5 212.1L1003 211.26L1004.5 211.46L1006 211.95" stroke="#22e03a" stroke-width="2.3" fill="none" stroke-linejoin="round"/>
<path d="M613 259.34L613.73 272.24L614.46 231.89L615.19 270.83L615.92 264.43L616.65 243.56L617.38 282.43L618.11 276.8L618.84 263.02L619.57 272.16L620.3 284.3L621.03 269.93L621.76 272.65L622.49 257L623.22 284.3L623.95 278.66L624.67 249.42L625.4 239.67L626.13 284.3L626.86 256.38L627.59 283.57L628.32 281.37L629.05 281.63L629.78 273.67L630.51 251.48L631.24 255.39L631.97 265.13L632.7 272.59L633.43 266.09L634.16 268.01L634.89 254.22L635.62 277.29L636.35 266.22L637.08 267.88L637.81 267.01L638.54 261.67L639.27 262.57L640 246.67L640.73 267.58L641.46 243.52L642.19 271.42L642.92 274.45L643.65 264.21L644.38 260.1L645.11 261.28L645.84 247.16L646.57 249.25L647.3 258.13L648.02 271.86L648.75 267.68L649.48 245.42L650.21 261.96L650.94 284.3L651.67 278.03L652.4 276.04L653.13 248.95L653.86 267.69L654.59 233.64L655.32 255.74L656.05 263.54L656.78 273.43L657.51 251.34L658.24 269.95L658.97 280.25L659.7 256.86L660.43 265.42L661.16 248.26L661.89 266.91L662.62 284.3L663.35 253.71L664.08 284.3L664.81 243.34L665.54 239.42L666.27 273.04L667 284.3L667.73 284.3L668.46 252.42L669.19 268.98L669.92 275.96L670.65 269.67L671.37 235.57L672.1 259.56L672.83 254.04L673.56 253.58L674.29 250.23L675.02 249.61L675.75 277.76L676.48 268.97L677.21 278.59L677.94 277.69L678.67 248.37L679.4 273.93L680.13 266.43L680.86 277.25L681.59 275.47L682.32 253.1L683.05 272.79L683.78 273.41L684.51 257.07L685.24 256.95L685.97 252.89L686.7 261.73L687.43 284.3L688.16 255.02L688.89 256.8L689.62 249.6L690.35 279.54L691.08 229.18L691.81 284.3L692.54 253.46L693.27 263.61L693.99 272.99L694.72 252.11L695.45 269.27L696.18 284.3L696.91 284.3L697.64 256.87L698.37 232.28L699.1 284.3L699.83 264.31L700.56 242.99L701.29 254.57L702.02 270.5L702.75 284.3L703.48 284.3L704.21 276.92L704.94 270.15L705.67 284.3L706.4 284.3L707.13 258.3L707.86 270.62L708.59 276.67L709.32 270.47L710.05 277.56L710.78 249.36L711.51 239.47L712.24 233.41L712.97 252.14L713.7 251.55L714.43 241.6L715.16 237.72L715.89 241.4L716.62 244.81L717.34 273.63L718.07 284.3L718.8 249.16L719.53 263.79L720.26 263.01L720.99 277.65L721.72 284.3L722.45 241.41L723.18 254.22L723.91 280.32L724.64 255.02L725.37 256.07L726.1 252.96L726.83 229.23L727.56 261.49L728.29 283.36L729.02 259.95L729.75 271.88L730.48 251.76L731.21 256.42L731.94 254.24L732.67 269.85L733.4 252.97L734.13 268.5L734.86 251.19L735.59 264.42L736.32 278.68L737.05 250.86L737.78 270.98L738.51 237.39L739.24 250.97L739.97 250.4L740.69 255.78L741.42 258.37L742.15 284.3L742.88 238.96L743.61 270.9L744.34 242.05L745.07 267.2L745.8 258.12L746.53 259.22L747.26 273.27L747.99 257.59L748.72 246.63L749.45 261.1L750.18 275.72L750.91 263.08L751.64 248.08L752.37 235.23L753.1 239.03L753.83 246.08L754.56 268.08L755.29 236.44L756.02 248.89L756.75 252.94L757.48 234.52L758.21 237.86L758.94 238.76L759.67 266.22L760.4 255.85L761.13 274.32L761.86 239.86L762.59 241.85L763.32 227.51L764.04 236.53L764.77 245.66L765.5 207.86L766.23 254.89L766.96 258.96L767.69 244.69L768.42 224.16L769.15 236.92L769.88 236.8L770.61 246.98L771.34 203.89L772.07 234.07L772.8 239.89L773.53 220.52L774.26 230.03L774.99 217.07L775.72 190.57L776.45 214.62L777.18 204.14L777.91 206.05L778.64 198.91L779.37 178.93L780.1 178.27L780.83 187.62L781.56 192.69L782.29 172.86L783.02 151.89L783.75 158.08L784.48 153.04L785.21 175.16L785.94 121.03L786.66 153.18L787.39 140.68L788.12 116.26L788.85 100.48L789.58 91.34L790.31 93.82L791.04 78.51L791.77 73.2L792.5 76L793.23 55.21L793.96 52.72L794.69 43.48L795.42 44.56L796.15 40.57L796.88 43.21L797.61 45.23L798.34 47.37L799.07 56.12L799.8 71.43L800.53 63.17L801.26 99.88L801.99 95.97L802.72 92.62L803.45 118.19L804.18 111.54L804.91 144.46L805.64 148.02L806.37 137.75L807.1 142.7L807.83 142.83L808.56 167.94L809.29 167.61L810.01 168.69L810.74 176.09L811.47 211.39L812.2 202.95L812.93 176.2L813.66 222.96L814.39 194.95L815.12 215.5L815.85 196.3L816.58 227.79L817.31 215.89L818.04 255.12L818.77 222.4L819.5 208.08L820.23 252.47L820.96 210.54L821.69 242.32L822.42 232.27L823.15 282.01L823.88 218.6L824.61 251.33L825.34 246.69L826.07 261.01L826.8 257.14L827.53 223.95L828.26 250.73L828.99 229.4L829.72 246.76L830.45 238.78L831.18 254.31L831.91 239.29L832.64 211.54L833.36 237.64L834.09 240.34L834.82 257.35L835.55 234.63L836.28 230.41L837.01 280.78L837.74 275.62L838.47 221.77L839.2 245.36L839.93 250.38L840.66 244.37L841.39 237.43L842.12 241.92L842.85 258.26L843.58 225.26L844.31 254.82L845.04 270.85L845.77 265.56L846.5 258.36L847.23 263.03L847.96 259.94L848.69 251.57L849.42 284.3L850.15 271.19L850.88 243.59L851.61 249.17L852.34 270.17L853.07 269.4L853.8 241.87L854.53 263.16L855.26 268.36L855.98 232.61L856.71 265.9L857.44 249.13L858.17 260.52L858.9 258.99L859.63 276.79L860.36 274.83L861.09 242.04L861.82 280.64L862.55 255.85L863.28 281.91L864.01 265.17L864.74 261.71L865.47 284.3L866.2 244.68L866.93 264.67L867.66 243.81L868.39 278.17L869.12 248.21L869.85 228.7L870.58 258.14L871.31 273.51L872.04 254.59L872.77 259.77L873.5 266.07L874.23 264.57L874.96 272.76L875.69 255.8L876.42 269.55L877.15 277.93L877.88 250.64L878.61 265.86L879.33 227.65L880.06 267.49L880.79 275.83L881.52 272.94L882.25 257.2L882.98 275.68L883.71 284.3L884.44 239.9L885.17 284.3L885.9 241.76L886.63 261.17L887.36 282.49L888.09 239.82L888.82 267.42L889.55 281.69L890.28 262.78L891.01 245.27L891.74 253.63L892.47 251.71L893.2 238.96L893.93 260.38L894.66 258.07L895.39 268.26L896.12 284.3L896.85 266.91L897.58 241.12L898.31 284.3L899.04 244.97L899.77 259.93L900.5 280.65L901.23 263.43L901.96 239.16L902.68 274.79L903.41 252.82L904.14 248.16L904.87 280.63L905.6 255.1L906.33 256.48L907.06 273.25L907.79 254.48L908.52 271.31L909.25 275.17L909.98 284.3L910.71 258.73L911.44 272.63L912.17 274.95L912.9 284.3L913.63 284.3L914.36 279.11L915.09 254.14L915.82 279.59L916.55 244.33L917.28 258.65L918.01 262.48L918.74 284.3L919.47 237.41L920.2 284.3L920.93 257.03L921.66 241.06L922.39 268.93L923.12 277.52L923.85 265.79L924.58 251.88L925.31 245.79L926.03 256.21L926.76 284.3L927.49 277.48L928.22 261.98L928.95 284.3L929.68 269.86L930.41 236L931.14 284.3L931.87 248.69L932.6 282.18L933.33 271.73L934.06 266.96L934.79 284.3L935.52 267.61L936.25 246.91L936.98 254.92L937.71 255.21L938.44 280.04L939.17 268.4L939.9 262.27L940.63 255.53L941.36 246.39L942.09 283.56L942.82 241.49L943.55 270.98L944.28 270.38L945.01 284.3L945.74 267.16L946.47 270L947.2 284.3L947.93 271.15L948.65 263.86L949.38 273.3L950.11 254.31L950.84 284.16L951.57 252.81L952.3 269.36L953.03 259.97L953.76 284.3L954.49 263.82L955.22 267.21L955.95 252.25L956.68 284.3L957.41 246.36L958.14 284.3L958.87 247.04L959.6 257.23L960.33 279.53L961.06 236L961.79 284.3L962.52 269.26L963.25 262.56L963.98 258.07L964.71 262.24L965.44 254.26L966.17 258.96L966.9 265.69L967.63 282.71L968.36 272.39L969.09 252.88L969.82 284.3L970.55 264.35L971.28 284.3L972 278.63L972.73 284.3L973.46 248.21L974.19 284.3L974.92 270.6L975.65 255.35L976.38 257.01L977.11 254.75L977.84 250.77L978.57 258.9L979.3 253.92L980.03 267.37L980.76 266.87L981.49 284.3L982.22 263.45L982.95 247.99L983.68 279.67L984.41 284.3L985.14 264.85L985.87 249.85L986.6 248.86L987.33 284.3L988.06 259.31L988.79 278.1L989.52 261.7L990.25 284.3L990.98 252.83L991.71 273.51L992.44 262.9L993.17 269.71L993.9 284.3L994.63 258.32L995.35 275.06L996.08 278.72L996.81 256.49L997.54 268.04L998.27 278.94L999 252.65L999.73 277.02L1000.46 267.14L1001.19 255.49L1001.92 252.61L1002.65 249.08L1003.38 242.78L1004.11 265.81L1004.84 280.73L1005.57 242.92L1006.3 246.46" stroke="#8e8826" stroke-width="1.0" fill="none" stroke-linejoin="round"/>
<path d="M613 259.34L613.13 261.66M613.6 269.92L613.73 272.24L613.86 264.98M614.33 239.15L614.46 231.89L614.59 238.9M615.06 263.82L615.19 270.83L615.32 269.68M615.79 265.58L615.92 264.43L616.05 260.67M616.52 247.32L616.65 243.56L616.78 250.56M617.25 275.43L617.38 282.43L617.51 281.41M617.98 277.82L618.11 276.8L618.24 274.32M618.71 265.5L618.84 263.02L618.97 264.66M619.44 270.51L619.57 272.16L619.7 274.34M620.17 282.11L620.3 284.3L620.43 281.71M620.9 272.52L621.03 269.93L621.16 270.42M621.62 272.16L621.76 272.65L621.89 269.83M622.35 259.82L622.49 257L622.62 261.91M623.08 279.39L623.22 284.3L623.35 283.28M623.81 279.67L623.95 278.66L624.08 273.39M624.54 254.68L624.67 249.42L624.81 247.66M625.27 241.43L625.4 239.67L625.54 247.71M626 276.27L626.13 284.3L626.27 279.27M626.73 261.4L626.86 256.38L627 261.27M627.46 278.67L627.59 283.57L627.73 283.17M628.19 281.77L628.32 281.37L628.45 281.42M628.92 281.58L629.05 281.63L629.18 280.19M629.65 275.1L629.78 273.67L629.91 269.68M630.38 255.47L630.51 251.48L630.64 252.18M631.11 254.68L631.24 255.39L631.37 257.14M631.84 263.37L631.97 265.13L632.1 266.47M632.57 271.24L632.7 272.59L632.83 271.42M633.3 267.26L633.43 266.09L633.56 266.44M634.03 267.67L634.16 268.01L634.29 265.53M634.76 256.7L634.89 254.22L635.02 258.37M635.49 273.13L635.62 277.29L635.75 275.29M636.22 268.21L636.35 266.22L636.48 266.52M636.95 267.59L637.08 267.88L637.21 267.73M637.68 267.17L637.81 267.01L637.94 266.05M638.41 262.63L638.54 261.67L638.67 261.83M639.14 262.41L639.27 262.57L639.4 259.71M639.87 249.53L640 246.67L640.13 250.43M640.6 263.81L640.73 267.58L640.86 263.25M641.33 247.85L641.46 243.52L641.59 248.54M642.06 266.4L642.19 271.42L642.32 271.97M642.79 273.91L642.92 274.45L643.05 272.61M643.52 266.05L643.65 264.21L643.78 263.47M644.25 260.84L644.38 260.1L644.51 260.32M644.97 261.06L645.11 261.28L645.24 258.74M645.7 249.7L645.84 247.16L645.97 247.54M646.43 248.88L646.57 249.25L646.7 250.85M647.16 256.54L647.3 258.13L647.43 260.61M647.89 269.39L648.02 271.86L648.16 271.11M648.62 268.43L648.75 267.68L648.89 263.67M649.35 249.43L649.48 245.42L649.62 248.4M650.08 258.98L650.21 261.96L650.35 265.98M650.81 280.28L650.94 284.3L651.07 283.17M651.54 279.16L651.67 278.03L651.8 277.67M652.27 276.4L652.4 276.04L652.53 271.16M653 253.82L653.13 248.95L653.26 252.32M653.73 264.32L653.86 267.69L653.99 261.56M654.46 239.77L654.59 233.64L654.72 237.62M655.19 251.76L655.32 255.74L655.45 257.14M655.92 262.14L656.05 263.54L656.18 265.32M656.65 271.65L656.78 273.43L656.91 269.46M657.38 255.31L657.51 251.34L657.64 254.69M658.11 266.6L658.24 269.95L658.37 271.81M658.84 278.4L658.97 280.25L659.1 276.04M659.57 261.07L659.7 256.86L659.83 258.4M660.3 263.88L660.43 265.42L660.56 262.33M661.03 251.35L661.16 248.26L661.29 251.61M661.76 263.55L661.89 266.91L662.02 270.04M662.49 281.17L662.62 284.3L662.75 278.79M663.22 259.22L663.35 253.71L663.48 259.22M663.95 278.79L664.08 284.3L664.21 276.93M664.68 250.71L664.81 243.34L664.94 242.63M665.41 240.13L665.54 239.42L665.67 245.47M666.14 266.99L666.27 273.04L666.4 275.07M666.87 282.27L667 284.3L667.13 284.3M667.6 284.3L667.73 284.3L667.86 278.56M668.32 258.16L668.46 252.42L668.59 255.4M669.05 266L669.19 268.98L669.32 270.24M669.78 274.71L669.92 275.96L670.05 274.83M670.51 270.8L670.65 269.67L670.78 263.53M671.24 241.7L671.37 235.57L671.51 239.89M671.97 255.24L672.1 259.56L672.24 258.57M672.7 255.03L672.83 254.04L672.97 253.96M673.43 253.67L673.56 253.58L673.7 252.98M674.16 250.83L674.29 250.23L674.42 250.12M674.89 249.72L675.02 249.61L675.15 254.68M675.62 272.69L675.75 277.76L675.88 276.18M676.35 270.55L676.48 268.97L676.61 270.71M677.08 276.86L677.21 278.59L677.34 278.43M677.81 277.85L677.94 277.69L678.07 272.41M678.54 253.65L678.67 248.37L678.8 252.98M679.27 269.33L679.4 273.93L679.53 272.58M680 267.78L680.13 266.43L680.26 268.38M680.73 275.31L680.86 277.25L680.99 276.93M681.46 275.79L681.59 275.47L681.72 271.44M682.19 257.13L682.32 253.1L682.45 256.65M682.92 269.25L683.05 272.79L683.18 272.9M683.65 273.3L683.78 273.41L683.91 270.47M684.38 260.01L684.51 257.07L684.64 257.05M685.11 256.97L685.24 256.95L685.37 256.21M685.84 253.62L685.97 252.89L686.1 254.48M686.57 260.14L686.7 261.73L686.83 265.8M687.3 280.24L687.43 284.3L687.56 279.03M688.03 260.29L688.16 255.02L688.29 255.34M688.76 256.48L688.89 256.8L689.02 255.51M689.49 250.9L689.62 249.6L689.75 254.99M690.22 274.15L690.35 279.54L690.48 270.47M690.94 238.24L691.08 229.18L691.21 239.1M691.67 274.38L691.81 284.3L691.94 278.75M692.4 259.01L692.54 253.46L692.67 255.29M693.13 261.78L693.27 263.61L693.4 265.29M693.86 271.3L693.99 272.99L694.13 269.23M694.59 255.87L694.72 252.11L694.86 255.2M695.32 266.18L695.45 269.27L695.59 271.97M696.05 281.59L696.18 284.3L696.32 284.3M696.78 284.3L696.91 284.3L697.05 279.36M697.51 261.81L697.64 256.87L697.77 252.45M698.24 236.7L698.37 232.28L698.5 241.64M698.97 274.94L699.1 284.3L699.23 280.7M699.7 267.91L699.83 264.31L699.96 260.47M700.43 246.82L700.56 242.99L700.69 245.07M701.16 252.49L701.29 254.57L701.42 257.44M701.89 267.63L702.02 270.5L702.15 272.98M702.62 281.82L702.75 284.3L702.88 284.3M703.35 284.3L703.48 284.3L703.61 282.97M704.08 278.25L704.21 276.92L704.34 275.7M704.81 271.37L704.94 270.15L705.07 272.7M705.54 281.75L705.67 284.3L705.8 284.3M706.27 284.3L706.4 284.3L706.53 279.62M707 262.98L707.13 258.3L707.26 260.52M707.73 268.41L707.86 270.62L707.99 271.71M708.46 275.59L708.59 276.67L708.72 275.56M709.19 271.58L709.32 270.47L709.45 271.74M709.92 276.28L710.05 277.56L710.18 272.49M710.65 254.44L710.78 249.36L710.91 247.58M711.38 241.25L711.51 239.47L711.64 238.38M712.11 234.5L712.24 233.41L712.37 236.78M712.84 248.77L712.97 252.14L713.1 252.04M713.57 251.66L713.7 251.55L713.83 249.76M714.29 243.39L714.43 241.6L714.56 240.9M715.02 238.42L715.16 237.72L715.29 238.38M715.75 240.74L715.89 241.4L716.02 242.02M716.48 244.19L716.62 244.81L716.75 249.99M717.21 268.44L717.34 273.63L717.48 275.55M717.94 282.38L718.07 284.3L718.21 277.97M718.67 255.48L718.8 249.16L718.94 251.79M719.4 261.15L719.53 263.79L719.67 263.65M720.13 263.15L720.26 263.01L720.39 265.65M720.86 275.02L720.99 277.65L721.12 278.85M721.59 283.1L721.72 284.3L721.85 276.58M722.32 249.13L722.45 241.41L722.58 243.72M723.05 251.91L723.18 254.22L723.31 258.92M723.78 275.63L723.91 280.32L724.04 275.77M724.51 259.57L724.64 255.02L724.77 255.21M725.24 255.88L725.37 256.07L725.5 255.51M725.97 253.52L726.1 252.96L726.23 248.69M726.7 233.51L726.83 229.23L726.96 235.04M727.43 255.68L727.56 261.49L727.69 265.42M728.16 279.42L728.29 283.36L728.42 279.15M728.89 264.16L729.02 259.95L729.15 262.1M729.62 269.73L729.75 271.88L729.88 268.26M730.35 255.38L730.48 251.76L730.61 252.6M731.08 255.58L731.21 256.42L731.34 256.03M731.81 254.63L731.94 254.24L732.07 257.05M732.54 267.04L732.67 269.85L732.8 266.81M733.27 256.01L733.4 252.97L733.53 255.77M734 265.7L734.13 268.5L734.26 265.38M734.73 254.3L734.86 251.19L734.99 253.57M735.46 262.04L735.59 264.42L735.72 266.99M736.19 276.11L736.32 278.68L736.45 273.67M736.92 255.87L737.05 250.86L737.18 254.48M737.64 267.36L737.78 270.98L737.91 264.93M738.37 243.44L738.51 237.39L738.64 239.84M739.1 248.53L739.24 250.97L739.37 250.87M739.83 250.5L739.97 250.4L740.1 251.37M740.56 254.81L740.69 255.78L740.83 256.25M741.29 257.91L741.42 258.37L741.56 263.04M742.02 279.63L742.15 284.3L742.29 276.14M742.75 247.12L742.88 238.96L743.02 244.71M743.48 265.15L743.61 270.9L743.74 265.71M744.21 247.25L744.34 242.05L744.47 246.58M744.94 262.67L745.07 267.2L745.2 265.56M745.67 259.75L745.8 258.12L745.93 258.32M746.4 259.02L746.53 259.22L746.66 261.75M747.13 270.74L747.26 273.27L747.39 270.45M747.86 260.41L747.99 257.59L748.12 255.61M748.59 248.6L748.72 246.63L748.85 249.24M749.32 258.5L749.45 261.1L749.58 263.74M750.05 273.09L750.18 275.72L750.31 273.44M750.78 265.35L750.91 263.08L751.04 260.38M751.51 250.78L751.64 248.08L751.77 245.77M752.24 237.54L752.37 235.23L752.5 235.92M752.97 238.35L753.1 239.03L753.23 240.3M753.7 244.81L753.83 246.08L753.96 250.04M754.43 264.12L754.56 268.08L754.69 262.39M755.16 242.13L755.29 236.44L755.42 238.68M755.89 246.65L756.02 248.89L756.15 249.62M756.62 252.21L756.75 252.94L756.88 249.62M757.35 237.83L757.48 234.52L757.61 235.12M758.08 237.26L758.21 237.86L758.34 238.02M758.81 238.6L758.94 238.76L759.07 243.7M759.54 261.28L759.67 266.22L759.8 264.35M760.26 257.71L760.4 255.85L760.53 259.17M760.99 271L761.13 274.32L761.26 268.12M761.72 246.07L761.86 239.86L761.99 240.22M762.45 241.49L762.59 241.85L762.72 239.27M763.18 230.09L763.32 227.51L763.45 229.13M763.91 234.91L764.04 236.53L764.18 238.17M764.64 244.01L764.77 245.66L764.91 238.85M765.37 214.67L765.5 207.86L765.64 216.33M766.1 246.42L766.23 254.89L766.37 255.62M766.83 258.23L766.96 258.96L767.09 256.39M767.56 247.26L767.69 244.69L767.82 241M768.29 227.86L768.42 224.16L768.55 226.46M769.02 234.62L769.15 236.92L769.28 236.9M769.75 236.82L769.88 236.8L770.01 238.63M770.48 245.14L770.61 246.98L770.74 239.22M771.21 211.64L771.34 203.89L771.47 209.32M771.94 228.64L772.07 234.07L772.2 235.12M772.67 238.84L772.8 239.89L772.93 236.41M773.4 224.01L773.53 220.52L773.66 222.23M774.13 228.32L774.26 230.03L774.39 227.7M774.86 219.4L774.99 217.07L775.12 212.3M775.59 195.34L775.72 190.57L775.85 194.9M776.32 210.29L776.45 214.62L776.58 212.74M777.05 206.03L777.18 204.14L777.31 204.49M777.78 205.71L777.91 206.05L778.04 204.77M778.51 200.2L778.64 198.91L778.77 195.32M779.24 182.53L779.37 178.93L779.5 178.81M779.97 178.39L780.1 178.27L780.23 179.95M780.7 185.94L780.83 187.62L780.96 188.54M781.43 191.78L781.56 192.69L781.69 189.12M782.16 176.43L782.29 172.86L782.42 169.09M782.89 155.67L783.02 151.89L783.15 153.01M783.61 156.97L783.75 158.08L783.88 157.17M784.34 153.94L784.48 153.04L784.61 157.02M785.07 171.18L785.21 175.16L785.34 165.41M785.8 130.77L785.94 121.03L786.07 126.82M786.53 147.4L786.66 153.18L786.8 150.93M787.26 142.93L787.39 140.68L787.53 136.29M787.99 120.66L788.12 116.26L788.26 113.42M788.72 103.32L788.85 100.48L788.99 98.84M789.45 92.99L789.58 91.34L789.72 91.79M790.18 93.37L790.31 93.82L790.44 91.06M790.91 81.26L791.04 78.51L791.17 77.55M791.64 74.16L791.77 73.2L791.9 73.71M792.37 75.49L792.5 76L792.63 72.26M793.1 58.95L793.23 55.21L793.36 54.76M793.83 53.17L793.96 52.72L794.09 51.06M794.56 45.14L794.69 43.48L794.82 43.68M795.29 44.37L795.42 44.56L795.55 43.84M796.02 41.29L796.15 40.57L796.28 41.05M796.75 42.74L796.88 43.21L797.01 43.57M797.48 44.87L797.61 45.23L797.74 45.62M798.21 46.98L798.34 47.37L798.47 48.94M798.94 54.55L799.07 56.12L799.2 58.88M799.67 68.67L799.8 71.43L799.93 69.94M800.4 64.66L800.53 63.17L800.66 69.78M801.13 93.27L801.26 99.88L801.39 99.18M801.86 96.67L801.99 95.97L802.12 95.36M802.59 93.23L802.72 92.62L802.85 97.23M803.32 113.59L803.45 118.19L803.58 116.99M804.05 112.74L804.18 111.54L804.31 117.47M804.78 138.53L804.91 144.46L805.04 145.1M805.51 147.38L805.64 148.02L805.77 146.17M806.24 139.6L806.37 137.75L806.5 138.64M806.96 141.81L807.1 142.7L807.23 142.72M807.69 142.81L807.83 142.83L807.96 147.35M808.42 163.42L808.56 167.94L808.69 167.88M809.15 167.67L809.29 167.61L809.42 167.81M809.88 168.49L810.01 168.69L810.15 170.02M810.61 174.76L810.74 176.09L810.88 182.44M811.34 205.03L811.47 211.39L811.61 209.87M812.07 204.47L812.2 202.95L812.34 198.14M812.8 181.01L812.93 176.2L813.06 184.62M813.53 214.55L813.66 222.96L813.79 217.92M814.26 200L814.39 194.95L814.52 198.65M814.99 211.8L815.12 215.5L815.25 212.04M815.72 199.76L815.85 196.3L815.98 201.97M816.45 222.12L816.58 227.79L816.71 225.65M817.18 218.03L817.31 215.89L817.44 222.95M817.91 248.06L818.04 255.12L818.17 249.23M818.64 228.29L818.77 222.4L818.9 219.82M819.37 210.66L819.5 208.08L819.63 216.07M820.1 244.48L820.23 252.47L820.36 244.92M820.83 218.09L820.96 210.54L821.09 216.26M821.56 236.6L821.69 242.32L821.82 240.51M822.29 234.08L822.42 232.27L822.55 241.23M823.02 273.06L823.15 282.01L823.28 270.6M823.75 230.02L823.88 218.6L824.01 224.49M824.48 245.44L824.61 251.33L824.74 250.5M825.21 247.52L825.34 246.69L825.47 249.26M825.94 258.43L826.07 261.01L826.2 260.31M826.67 257.83L826.8 257.14L826.93 251.16M827.4 229.92L827.53 223.95L827.66 228.77M828.13 245.91L828.26 250.73L828.39 246.89M828.86 233.24L828.99 229.4L829.12 232.52M829.58 243.64L829.72 246.76L829.85 245.32M830.31 240.22L830.45 238.78L830.58 241.58M831.04 251.52L831.18 254.31L831.31 251.61M831.77 241.99L831.91 239.29L832.04 234.29M832.5 216.54L832.64 211.54L832.77 216.24M833.23 232.94L833.36 237.64L833.5 238.13M833.96 239.86L834.09 240.34L834.23 243.4M834.69 254.29L834.82 257.35L834.96 253.26M835.42 238.72L835.55 234.63L835.69 233.87M836.15 231.17L836.28 230.41L836.41 239.48M836.88 271.71L837.01 280.78L837.14 279.85M837.61 276.55L837.74 275.62L837.87 265.93M838.34 231.46L838.47 221.77L838.6 226.01M839.07 241.11L839.2 245.36L839.33 246.26M839.8 249.48L839.93 250.38L840.06 249.3M840.53 245.45L840.66 244.37L840.79 243.12M841.26 238.68L841.39 237.43L841.52 238.24M841.99 241.11L842.12 241.92L842.25 244.86M842.72 255.32L842.85 258.26L842.98 252.32M843.45 231.2L843.58 225.26L843.71 230.58M844.18 249.5L844.31 254.82L844.44 257.71M844.91 267.96L845.04 270.85L845.17 269.9M845.64 266.51L845.77 265.56L845.9 264.26M846.37 259.66L846.5 258.36L846.63 259.2M847.1 262.19L847.23 263.03L847.36 262.47M847.83 260.49L847.96 259.94L848.09 258.43M848.56 253.08L848.69 251.57L848.82 257.46M849.29 278.41L849.42 284.3L849.55 281.94M850.02 273.55L850.15 271.19L850.28 266.22M850.75 248.56L850.88 243.59L851.01 244.6M851.48 248.17L851.61 249.17L851.74 252.95M852.21 266.39L852.34 270.17L852.47 270.03M852.93 269.54L853.07 269.4L853.2 264.45M853.66 246.83L853.8 241.87L853.93 245.71M854.39 259.33L854.53 263.16L854.66 264.1M855.12 267.42L855.26 268.36L855.39 261.92M855.85 239.05L855.98 232.61L856.12 238.6M856.58 259.91L856.71 265.9L856.85 262.88M857.31 252.15L857.44 249.13L857.58 251.18M858.04 258.47L858.17 260.52L858.31 260.25M858.77 259.26L858.9 258.99L859.04 262.19M859.5 273.59L859.63 276.79L859.76 276.44M860.23 275.18L860.36 274.83L860.49 268.92M860.96 247.94L861.09 242.04L861.22 248.98M861.69 273.69L861.82 280.64L861.95 276.18M862.42 260.31L862.55 255.85L862.68 260.54M863.15 277.22L863.28 281.91L863.41 278.89M863.88 268.18L864.01 265.17L864.14 264.55M864.61 262.33L864.74 261.71L864.87 265.78M865.34 280.23L865.47 284.3L865.6 277.17M866.07 251.81L866.2 244.68L866.33 248.28M866.8 261.07L866.93 264.67L867.06 260.92M867.53 247.57L867.66 243.81L867.79 250M868.26 271.98L868.39 278.17L868.52 272.78M868.99 253.6L869.12 248.21L869.25 244.7M869.72 232.21L869.85 228.7L869.98 234M870.45 252.84L870.58 258.14L870.71 260.91M871.18 270.74L871.31 273.51L871.44 270.1M871.91 258L872.04 254.59L872.17 255.52M872.64 258.84L872.77 259.77L872.9 260.9M873.37 264.93L873.5 266.07L873.63 265.8M874.1 264.84L874.23 264.57L874.36 266.05M874.83 271.29L874.96 272.76L875.09 269.71M875.56 258.85L875.69 255.8L875.82 258.27M876.28 267.07L876.42 269.55L876.55 271.05M877.01 276.42L877.15 277.93L877.28 273.02M877.74 255.55L877.88 250.64L878.01 253.38M878.47 263.12L878.61 265.86L878.74 258.99M879.2 234.53L879.33 227.65L879.47 234.82M879.93 260.32L880.06 267.49L880.2 268.99M880.66 274.33L880.79 275.83L880.93 275.31M881.39 273.46L881.52 272.94L881.66 270.1M882.12 260.03L882.25 257.2L882.38 260.53M882.85 272.36L882.98 275.68L883.11 277.23M883.58 282.75L883.71 284.3L883.84 276.31M884.31 247.89L884.44 239.9L884.57 247.89M885.04 276.31L885.17 284.3L885.3 276.64M885.77 249.41L885.9 241.76L886.03 245.25M886.5 257.67L886.63 261.17L886.76 265.01M887.23 278.66L887.36 282.49L887.49 274.81M887.96 247.5L888.09 239.82L888.22 244.79M888.69 262.46L888.82 267.42L888.95 269.99M889.42 279.12L889.55 281.69L889.68 278.29M890.15 266.18L890.28 262.78L890.41 259.62M890.88 248.42L891.01 245.27L891.14 246.77M891.61 252.13L891.74 253.63L891.87 253.29M892.34 252.06L892.47 251.71L892.6 249.42M893.07 241.26L893.2 238.96L893.33 242.82M893.8 256.53L893.93 260.38L894.06 259.96M894.53 258.48L894.66 258.07L894.79 259.9M895.26 266.43L895.39 268.26L895.52 271.15M895.99 281.41L896.12 284.3L896.25 281.17M896.72 270.04L896.85 266.91L896.98 262.27M897.45 245.76L897.58 241.12L897.71 248.89M898.18 276.53L898.31 284.3L898.44 277.22M898.91 252.05L899.04 244.97L899.17 247.66M899.63 257.24L899.77 259.93L899.9 263.66M900.36 276.92L900.5 280.65L900.63 277.55M901.09 266.53L901.23 263.43L901.36 259.06M901.82 243.53L901.96 239.16L902.09 245.57M902.55 268.38L902.68 274.79L902.82 270.84M903.28 256.78L903.41 252.82L903.55 251.98M904.01 249L904.14 248.16L904.28 254M904.74 274.78L904.87 280.63L905.01 276.03M905.47 259.7L905.6 255.1L905.73 255.35M906.2 256.23L906.33 256.48L906.46 259.5M906.93 270.23L907.06 273.25L907.19 269.87M907.66 257.86L907.79 254.48L907.92 257.51M908.39 268.28L908.52 271.31L908.65 272.01M909.12 274.47L909.25 275.17L909.38 276.81M909.85 282.66L909.98 284.3L910.11 279.7M910.58 263.33L910.71 258.73L910.84 261.23M911.31 270.13L911.44 272.63L911.57 273.05M912.04 274.54L912.17 274.95L912.3 276.64M912.77 282.62L912.9 284.3L913.03 284.3M913.5 284.3L913.63 284.3L913.76 283.37M914.23 280.04L914.36 279.11L914.49 274.61M914.96 258.63L915.09 254.14L915.22 258.72M915.69 275.01L915.82 279.59L915.95 273.25M916.42 250.68L916.55 244.33L916.68 246.91M917.15 256.07L917.28 258.65L917.41 259.34M917.88 261.79L918.01 262.48L918.14 266.41M918.61 280.37L918.74 284.3L918.87 275.86M919.34 245.85L919.47 237.41L919.6 245.85M920.07 275.86L920.2 284.3L920.33 279.39M920.8 261.94L920.93 257.03L921.06 254.16M921.53 243.93L921.66 241.06L921.79 246.07M922.25 263.92L922.39 268.93L922.52 270.48M922.98 275.98L923.12 277.52L923.25 275.41M923.71 267.91L923.85 265.79L923.98 263.29M924.44 254.38L924.58 251.88L924.71 250.78M925.17 246.89L925.31 245.79L925.44 247.67M925.9 254.34L926.03 256.21L926.17 261.27M926.63 279.24L926.76 284.3L926.9 283.07M927.36 278.71L927.49 277.48L927.63 274.69M928.09 264.77L928.22 261.98L928.36 266M928.82 280.28L928.95 284.3L929.08 281.7M929.55 272.46L929.68 269.86L929.81 263.77M930.28 242.1L930.41 236L930.54 244.69M931.01 275.61L931.14 284.3L931.27 277.89M931.74 255.1L931.87 248.69L932 254.72M932.47 276.15L932.6 282.18L932.73 280.3M933.2 273.61L933.33 271.73L933.46 270.87M933.93 267.82L934.06 266.96L934.19 270.08M934.66 281.18L934.79 284.3L934.92 281.3M935.39 270.62L935.52 267.61L935.65 263.89M936.12 250.64L936.25 246.91L936.38 248.36M936.85 253.48L936.98 254.92L937.11 254.97M937.58 255.15L937.71 255.21L937.84 259.68M938.31 275.57L938.44 280.04L938.57 277.94M939.04 270.49L939.17 268.4L939.3 267.29M939.77 263.37L939.9 262.27L940.03 261.06M940.5 256.74L940.63 255.53L940.76 253.88M941.23 248.03L941.36 246.39L941.49 253.08M941.96 276.87L942.09 283.56L942.22 275.99M942.69 249.07L942.82 241.49L942.95 246.8M943.42 265.67L943.55 270.98L943.68 270.87M944.15 270.49L944.28 270.38L944.41 272.89M944.88 281.79L945.01 284.3L945.14 281.21M945.6 270.24L945.74 267.16L945.87 267.67M946.33 269.49L946.47 270L946.6 272.58M947.06 281.73L947.2 284.3L947.33 281.93M947.79 273.52L947.93 271.15L948.06 269.84M948.52 265.17L948.65 263.86L948.79 265.56M949.25 271.6L949.38 273.3L949.52 269.88M949.98 257.73L950.11 254.31L950.25 259.69M950.71 278.79L950.84 284.16L950.98 278.52M951.44 258.46L951.57 252.81L951.7 255.79M952.17 266.38L952.3 269.36L952.43 267.67M952.9 261.66L953.03 259.97L953.16 264.35M953.63 279.92L953.76 284.3L953.89 280.61M954.36 267.51L954.49 263.82L954.62 264.43M955.09 266.6L955.22 267.21L955.35 264.51M955.82 254.94L955.95 252.25L956.08 258.02M956.55 278.53L956.68 284.3L956.81 277.47M957.28 253.19L957.41 246.36L957.54 253.19M958.01 277.47L958.14 284.3L958.27 277.59M958.74 253.74L958.87 247.04L959 248.87M959.47 255.4L959.6 257.23L959.73 261.24M960.2 275.51L960.33 279.53L960.46 271.69M960.93 243.83L961.06 236L961.19 244.69M961.66 275.61L961.79 284.3L961.92 281.59M962.39 271.96L962.52 269.26L962.65 268.05M963.12 263.77L963.25 262.56L963.38 261.75M963.85 258.88L963.98 258.07L964.11 258.82M964.58 261.49L964.71 262.24L964.84 260.8M965.31 255.7L965.44 254.26L965.57 255.11M966.04 258.11L966.17 258.96L966.3 260.17M966.77 264.48L966.9 265.69L967.03 268.76M967.5 279.65L967.63 282.71L967.76 280.86M968.23 274.25L968.36 272.39L968.49 268.88M968.95 256.39L969.09 252.88L969.22 258.53M969.68 278.64L969.82 284.3L969.95 280.71M970.41 267.94L970.55 264.35L970.68 267.94M971.14 280.71L971.28 284.3L971.41 283.28M971.87 279.65L972 278.63L972.14 279.65M972.6 283.28L972.73 284.3L972.87 277.8M973.33 254.71L973.46 248.21L973.6 254.71M974.06 277.8L974.19 284.3L974.33 281.83M974.79 273.06L974.92 270.6L975.05 267.85M975.52 258.1L975.65 255.35L975.78 255.65M976.25 256.71L976.38 257.01L976.51 256.6M976.98 255.16L977.11 254.75L977.24 254.03M977.71 251.49L977.84 250.77L977.97 252.23M978.44 257.43L978.57 258.9L978.7 258M979.17 254.82L979.3 253.92L979.43 256.35M979.9 264.95L980.03 267.37L980.16 267.28M980.63 266.96L980.76 266.87L980.89 270.01M981.36 281.16L981.49 284.3L981.62 280.55M982.09 267.2L982.22 263.45L982.35 260.67M982.82 250.78L982.95 247.99L983.08 253.7M983.55 273.97L983.68 279.67L983.81 280.5M984.28 283.47L984.41 284.3L984.54 280.8M985.01 268.35L985.14 264.85L985.27 262.15M985.74 252.55L985.87 249.85L986 249.67M986.47 249.04L986.6 248.86L986.73 255.24M987.2 277.92L987.33 284.3L987.46 279.8M987.93 263.81L988.06 259.31L988.19 262.69M988.66 274.71L988.79 278.1L988.92 275.14M989.39 264.65L989.52 261.7L989.65 265.77M990.12 280.23L990.25 284.3L990.38 278.63M990.85 258.49L990.98 252.83L991.11 256.55M991.57 269.79L991.71 273.51L991.84 271.6M992.3 264.81L992.44 262.9L992.57 264.12M993.03 268.48L993.17 269.71L993.3 272.33M993.76 281.67L993.9 284.3L994.03 279.62M994.49 263L994.63 258.32L994.76 261.33M995.22 272.05L995.35 275.06L995.49 275.72M995.95 278.06L996.08 278.72L996.22 274.72M996.68 260.5L996.81 256.49L996.95 258.57M997.41 265.96L997.54 268.04L997.68 270M998.14 276.97L998.27 278.94L998.4 274.2M998.87 257.38L999 252.65L999.13 257.03M999.6 272.63L999.73 277.02L999.86 275.24M1000.33 268.92L1000.46 267.14L1000.59 265.04M1001.06 257.59L1001.19 255.49L1001.32 254.97M1001.79 253.13L1001.92 252.61L1002.05 251.97M1002.52 249.71L1002.65 249.08L1002.78 247.94M1003.25 243.92L1003.38 242.78L1003.51 246.93M1003.98 261.67L1004.11 265.81L1004.24 268.5M1004.71 278.04L1004.84 280.73L1004.97 273.92M1005.44 249.72L1005.57 242.92L1005.7 243.56M1006.17 245.82L1006.3 246.46" stroke="#f2ea38" stroke-width="0.95" fill="none" stroke-linejoin="round" stroke-linecap="round"/>
<path d="M767.69 244.69L768.42 224.16L769.15 236.92L769.88 236.8L770.61 246.98L771.34 203.89L772.07 234.07L772.8 239.89L773.53 220.52L774.26 230.03L774.99 217.07L775.72 190.57L776.45 214.62L777.18 204.14L777.91 206.05L778.64 198.91L779.37 178.93L780.1 178.27L780.83 187.62L781.56 192.69L782.29 172.86L783.02 151.89L783.75 158.08L784.48 153.04L785.21 175.16L785.94 121.03L786.66 153.18L787.39 140.68L788.12 116.26L788.85 100.48L789.58 91.34L790.31 93.82L791.04 78.51L791.77 73.2L792.5 76L793.23 55.21L793.96 52.72L794.69 43.48L795.42 44.56L796.15 40.57L796.88 43.21L797.61 45.23L798.34 47.37L799.07 56.12L799.8 71.43L800.53 63.17L801.26 99.88L801.99 95.97L802.72 92.62L803.45 118.19L804.18 111.54L804.91 144.46L805.64 148.02L806.37 137.75L807.1 142.7L807.83 142.83L808.56 167.94L809.29 167.61L810.01 168.69L810.74 176.09L811.47 211.39L812.2 202.95L812.93 176.2L813.66 222.96L814.39 194.95L815.12 215.5L815.85 196.3L816.58 227.79L817.31 215.89L818.04 255.12L818.77 222.4L819.5 208.08L820.23 252.47L820.96 210.54L821.69 242.32L822.42 232.27L823.15 282.01L823.88 218.6L824.61 251.33" stroke="#d6ce32" stroke-width="1.25" fill="none" stroke-linejoin="round"/>
<path d="M613 285.16L614.5 285.22L616 285.25L617.5 285.65L619 285.36L620.5 285.34L622 285.1L623.5 285.86L625 285.65L626.5 285.01L628 285.01L629.5 285.47L631 285.55L632.5 285.1L634 285.59L635.5 284.81L637 285.16L638.5 285.55L640 285.02L641.5 285.26L643 285.21L644.5 285.12L646 284.58L647.5 285.1L649 285.27L650.5 285.28L652 285.47L653.5 285.53L655 285.1L656.5 285.14L658 285.79L659.5 285.52L661 285.23L662.5 285.15L664 285.58L665.5 285.58L667 285.19L668.5 285.38L670 285.23L671.5 285.21L673 285.86L674.5 284.79L676 285.48L677.5 284.86L679 284.99L680.5 285.51L682 284.77L683.5 284.9L685 284.83L686.5 285.02L688 285.32L689.5 285.62L691 285L692.5 285.53L694 284.8L695.5 285.94L697 285.06L698.5 285.05L700 285.3L701.5 285.24L703 285.15L704.5 284.63L706 285.49L707.5 285.44L709 285.06L710.5 284.8L712 285.29L713.5 285.58L715 284.6L716.5 284.81L718 285.23L719.5 284.92L721 285.08L722.5 285.16L724 285.46L725.5 285.46L727 285.53L728.5 285.5L730 284.98L731.5 284.37L733 285.3L734.5 285.35L736 285.35L737.5 284.96L739 285.85L740.5 284.62L742 285.47L743.5 285.41L745 285.51L746.5 285.67L748 285.36L749.5 285.31L751 285.1L752.5 285.46L754 285.33L755.5 285.47L757 284.8L758.5 284.67L760 285.22L761.5 285.38L763 284.67L764.5 284.85L766 285.08L767.5 285.3L769 285.31L770.5 285.54L772 285.14L773.5 285.34L775 285.64L776.5 285.11L778 285.97L779.5 285.07L781 285.24L782.5 284.56L784 285.17L785.5 285.02L787 284.98L788.5 285.3L790 284.83L791.5 285.28L793 284.52L794.5 285.03L796 285.66L797.5 285.25L799 285.41L800.5 284.89L802 284.76L803.5 285.67L805 285.55L806.5 285.49L808 285.2L809.5 285.6L811 285.06L812.5 285.44L814 285.43L815.5 284.9L817 285.69L818.5 285.25L820 285.48L821.5 284.69L823 284.8L824.5 285.06L826 285.38L827.5 285.6L829 285.33L830.5 285.16L832 285.4L833.5 285.13L835 285.26L836.5 285.34L838 284.97L839.5 285.34L841 284.71L842.5 284.92L844 285.43L845.5 284.98L847 285.37L848.5 285.28L850 285.13L851.5 285.72L853 285.36L854.5 285L856 285.03L857.5 285.24L859 284.69L860.5 285.59L862 285.18L863.5 284.62L865 284.86L866.5 285.68L868 285.28L869.5 285.94L871 285.21L872.5 285.36L874 285.87L875.5 285.93L877 284.88L878.5 285.5L880 284.84L881.5 285.04L883 284.6L884.5 285.4L886 284.85L887.5 284.93L889 285.85L890.5 285.5L892 285.14L893.5 284.58L895 285.31L896.5 284.41L898 284.89L899.5 285.43L901 285.47L902.5 285.25L904 285.48L905.5 285.26L907 284.93L908.5 285.21L910 285.79L911.5 285.18L913 285.3L914.5 285.39L916 284.72L917.5 284.85L919 284.66L920.5 285.32L922 285.07L923.5 284.77L925 284.76L926.5 285.45L928 285.48L929.5 285.34L931 285.21L932.5 285.37L934 285.2L935.5 285.32L937 285.05L938.5 284.84L940 284.94L941.5 285.28L943 285.77L944.5 284.9L946 284.81L947.5 285.44L949 285.44L950.5 284.94L952 284.99L953.5 284.98L955 285.3L956.5 286.24L958 284.94L959.5 285.29L961 285.01L962.5 285.23L964 285.32L965.5 285.28L967 284.84L968.5 284.84L970 285.5L971.5 285.27L973 285.24L974.5 285.37L976 284.92L977.5 285.59L979 284.89L980.5 284.81L982 284.83L983.5 285.13L985 286.07L986.5 285.18L988 285.27L989.5 285.69L991 285.04L992.5 284.68L994 284.95L995.5 285.03L997 284.6L998.5 285.07L1000 285.19L1001.5 285.86L1003 285.43L1004.5 285.2L1006 284.98" stroke="#35d6d6" stroke-width="2.4" fill="none"/>
<rect x="613.0" y="286.5" width="393.3" height="0.9" fill="#7f86b8"/>
<circle cx="618" cy="81.8" r="3" fill="#e8541e"/><text x="618" y="83.8" font-size="5.5" font-weight="bold" fill="#7a1a00" text-anchor="middle">a</text>
<circle cx="618.6" cy="280.6" r="3" fill="#e8541e"/><text x="618.6" y="282.8" font-size="5.5" font-weight="bold" fill="#7a1a00" text-anchor="middle">b</text>
<path d="M605.2 281.4h5l3 3.3l-3 3.3h-5z" fill="#f4ee30"/><text x="608" y="287.2" font-size="5.8" font-weight="bold" fill="#222" text-anchor="middle">1</text>
<path d="M605.4 155.2h4l2.6 2.9l-2.6 2.9h-4z" fill="#5a0f5a"/>
<rect x="806.95" y="32" width="5.4" height="6.3" rx="1" fill="#e8921c"/><text x="809.65" y="37.4" font-size="5.8" font-weight="bold" fill="#4a2200" text-anchor="middle">T</text>
<path d="M807.45 23.4h4.4v3.6l-2.2 4.4l-2.2-4.4z" fill="#e8921c"/>
<path d="M1005.6 191.7l-3.3 2.4l3.3 2.4z" fill="#f4ee30"/>
<rect x="888.4" y="38.8" width="118" height="23.6" rx="2.5" fill="#030303" stroke="#8a8a8a" stroke-width="1"/>
<g font-size="7" font-weight="bold" fill="#dcd83a">
<rect x="895.8" y="41.2" width="5.4" height="5" fill="none" stroke="#a8a62c" stroke-width="1"/>
<circle cx="898.4" cy="51.4" r="2.8" fill="none" stroke="#a8a62c" stroke-width="1"/>
<text x="948" y="45.9" text-anchor="end" textLength="31" lengthAdjust="spacingAndGlyphs">&#8722;500.0ms</text>
<text x="946.2" y="53.4" text-anchor="end" textLength="26.5" lengthAdjust="spacingAndGlyphs">500.0ms</text>
<text x="946.6" y="60.9" text-anchor="end" textLength="29" lengthAdjust="spacingAndGlyphs">&#916;1.000 s</text>
<text x="996" y="45.9" text-anchor="end" textLength="23.6" lengthAdjust="spacingAndGlyphs">3.752 V</text>
<text x="996" y="53.4" text-anchor="end" textLength="23.6" lengthAdjust="spacingAndGlyphs">2.894 V</text>
<text x="1001" y="60.9" text-anchor="end" textLength="34" lengthAdjust="spacingAndGlyphs">&#916;858.6mV</text>
</g>
<circle cx="958" cy="43.6" r="3.1" fill="#ec5a20"/><text x="958" y="45.6" font-size="5.4" font-weight="bold" fill="#7a1a00" text-anchor="middle">a</text>
<circle cx="958" cy="51.3" r="3.1" fill="#ec5a20"/><text x="958" y="53.3" font-size="5.4" font-weight="bold" fill="#7a1a00" text-anchor="middle">b</text>
<rect x="613.2" y="287.6" width="217.4" height="8" rx="3.5" fill="#030303" stroke="#8c8c8c" stroke-width="0.9"/>
<rect x="613.2" y="296.6" width="217.4" height="7.4" rx="3.5" fill="#030303" stroke="#8c8c8c" stroke-width="0.9"/>
<rect x="835.8" y="287.6" width="57" height="15" rx="3" fill="#030303" stroke="#8c8c8c" stroke-width="0.9"/>
<g font-size="6.6" font-weight="bold">
<rect x="615" y="289" width="10" height="5.4" rx="2.7" fill="#f2ea2e"/><text x="620" y="293.8" font-size="5.6" font-weight="bold" fill="#111" text-anchor="middle">1</text>
<text x="632.4" y="294.1" fill="#e4dc34" textLength="20.6" lengthAdjust="spacingAndGlyphs">106mV</text>
<path d="M661.4 290.2l1.4 1.4l1-1l1.4 2.4" stroke="#b8b030" stroke-width="0.9" fill="none"/>
<rect x="670" y="289" width="10" height="5.4" rx="2.7" fill="#2ed8e0"/><text x="675" y="293.8" font-size="5.6" font-weight="bold" fill="#045" text-anchor="middle">2</text>
<text x="686.6" y="294.1" fill="#22b4c0" textLength="33.6" lengthAdjust="spacingAndGlyphs">50.0mV&#937;&#8767;</text>
<rect x="725" y="289" width="10" height="5.4" rx="2.7" fill="#c424c4"/><text x="730" y="293.8" font-size="5.6" font-weight="bold" fill="#505" text-anchor="middle">3</text>
<text x="742" y="294.1" fill="#8e158e" textLength="22.6" lengthAdjust="spacingAndGlyphs">2.00 V</text>
<path d="M771 290.2l1.4 1.4l1-1l1.4 2.4" stroke="#8a1a8a" stroke-width="0.9" fill="none"/>
<rect x="784" y="289" width="10" height="5.4" rx="2.7" fill="#22c82c"/><text x="789" y="293.8" font-size="5.6" font-weight="bold" fill="#040" text-anchor="middle">4</text>
<text x="800.4" y="294.1" fill="#128018" textLength="23" lengthAdjust="spacingAndGlyphs">1.00 V</text>
<path d="M826 290.2l1.4 1.4l1-1l1.4 2.4" stroke="#1a8a24" stroke-width="0.9" fill="none"/>
<rect x="615" y="297.6" width="10" height="5.4" rx="2.7" fill="#1eaa28"/><text x="620" y="302.4" font-size="5.6" font-weight="bold" fill="#040" text-anchor="middle">4</text>
<text x="627" y="302.6" fill="#0f7a18" textLength="14" lengthAdjust="spacingAndGlyphs">High</text>
<text x="667.4" y="302.6" fill="#0f7a18" textLength="20" lengthAdjust="spacingAndGlyphs">3.00 V</text>
<text x="838.6" y="294.2" fill="#f4f4f4" font-size="6.8" textLength="19.6" lengthAdjust="spacingAndGlyphs">100ms</text>
<rect x="838.4" y="296" width="4.6" height="5" fill="#e8941e"/><path d="M844.2 298.5h2.4M847.4 296.8h3.6l-1.8 3z" stroke="#e8941e" stroke-width="0.8" fill="#e8941e"/>
<text x="851.4" y="301.2" fill="#e89a1e" font-size="6.8" textLength="30" lengthAdjust="spacingAndGlyphs">0.00000 s</text>
</g>
<rect x="613.2" y="304.6" width="44.2" height="20.2" rx="2" fill="#5b86e4"/><path d="M614.2 324.4H656.8V306" stroke="#2c3a8c" stroke-width="1.2" fill="none"/><path d="M613.7 323V305.2H655.9" stroke="#8fb0f4" stroke-width="0.8" fill="none"/>
<rect x="659.2" y="304.6" width="44.4" height="20.2" rx="2" fill="#5b86e4"/><path d="M660.2 324.4H703V306" stroke="#2c3a8c" stroke-width="1.2" fill="none"/><path d="M659.7 323V305.2H702.1" stroke="#8fb0f4" stroke-width="0.8" fill="none"/>
<rect x="705.6" y="304.6" width="44.4" height="20.2" rx="2" fill="#5b86e4"/><path d="M706.6 324.4H749.4V306" stroke="#2c3a8c" stroke-width="1.2" fill="none"/><path d="M706.1 323V305.2H748.5" stroke="#8fb0f4" stroke-width="0.8" fill="none"/>
<rect x="752" y="304.6" width="44" height="20.2" rx="2" fill="#5b86e4"/><path d="M753 324.4H795.4V306" stroke="#2c3a8c" stroke-width="1.2" fill="none"/><path d="M752.5 323V305.2H794.5" stroke="#8fb0f4" stroke-width="0.8" fill="none"/>
<rect x="798" y="304.6" width="44.8" height="20.2" rx="2" fill="#5b86e4"/><path d="M799 324.4H842.2V306" stroke="#2c3a8c" stroke-width="1.2" fill="none"/><path d="M798.5 323V305.2H841.3" stroke="#8fb0f4" stroke-width="0.8" fill="none"/>
<rect x="891.4" y="304.6" width="43.6" height="20.2" rx="2" fill="#5b86e4"/><path d="M892.4 324.4H934.4V306" stroke="#2c3a8c" stroke-width="1.2" fill="none"/><path d="M891.9 323V305.2H933.5" stroke="#8fb0f4" stroke-width="0.8" fill="none"/>
<g font-size="7" font-weight="bold" fill="#18225e" text-anchor="middle">
<text x="635.2" y="314" textLength="14.6" lengthAdjust="spacingAndGlyphs">Type</text>
<rect x="627.4" y="315.4" width="15.6" height="6.4" fill="#e6ebfa"/><text x="635.2" y="321" textLength="14.4" lengthAdjust="spacingAndGlyphs">Edge</text>
<text x="681.4" y="314" textLength="20.6" lengthAdjust="spacingAndGlyphs">Source</text>
<rect x="676.4" y="316.3" width="10" height="5.4" rx="2.7" fill="#f2ea2e"/><text x="681.4" y="321.1" font-size="5.6" font-weight="bold" fill="#111" text-anchor="middle">1</text>
<text x="727.6" y="314" textLength="27.6" lengthAdjust="spacingAndGlyphs">Coupling</text>
<rect x="723" y="315.4" width="9.4" height="6.4" fill="#e6ebfa"/><text x="727.7" y="321" textLength="8.2" lengthAdjust="spacingAndGlyphs">DC</text>
<text x="774.4" y="311.2" textLength="17.4" lengthAdjust="spacingAndGlyphs">Slope</text>
<rect x="776" y="313" width="18.6" height="11.4" fill="#cdd6f2"/>
<path d="M756 323h3.6l5-7.6h5" stroke="#18225e" stroke-width="1" fill="none"/><path d="M761.2 320.6l2.4-1.2l-0.6 2.4z" fill="#18225e" stroke="#18225e" stroke-width="0.8"/>
<path d="M778.4 315.4h4l5 7.6h5" stroke="#18225e" stroke-width="1" fill="none"/><path d="M784.2 318.2l2.4 1.4l-2.4 0.8z" fill="#18225e" stroke="#18225e" stroke-width="0.8"/>
<text x="821" y="314" textLength="16" lengthAdjust="spacingAndGlyphs">Level</text>
<rect x="810.8" y="315.4" width="20.6" height="6.4" fill="#e6ebfa"/><text x="821.2" y="321" textLength="19.4" lengthAdjust="spacingAndGlyphs">3.28 V</text>
</g>
</svg>
<svg style="left:895px;top:233px" width="341" height="302" viewBox="895 233 341 302">
<defs><radialGradient id="bg" gradientUnits="userSpaceOnUse" cx="0" cy="0" r="175.0" gradientTransform="translate(1060.2 417.0) rotate(-42.3) scale(1 0.755)"><stop offset="0.0000" stop-color="#1cff0c"/><stop offset="0.0145" stop-color="#1cff0c"/><stop offset="0.0290" stop-color="#1cff0c"/><stop offset="0.0435" stop-color="#1cff0c"/><stop offset="0.0580" stop-color="#1cff0c"/><stop offset="0.0725" stop-color="#1cff0c"/><stop offset="0.0870" stop-color="#1cff0c"/><stop offset="0.1014" stop-color="#1cff0c"/><stop offset="0.1159" stop-color="#1cff0c"/><stop offset="0.1304" stop-color="#1cff0c"/><stop offset="0.1449" stop-color="#1cff0c"/><stop offset="0.1594" stop-color="#1cff0c"/><stop offset="0.1739" stop-color="#1cff0c"/><stop offset="0.1884" stop-color="#1cff0c"/><stop offset="0.2029" stop-color="#1cff0c"/><stop offset="0.2174" stop-color="#1cff0c"/><stop offset="0.2319" stop-color="#1cff0c"/><stop offset="0.2464" stop-color="#1cff0c"/><stop offset="0.2609" stop-color="#1cff0c"/><stop offset="0.2754" stop-color="#1cff0c"/><stop offset="0.2899" stop-color="#1cff0c"/><stop offset="0.3043" stop-color="#1cff0c"/><stop offset="0.3188" stop-color="#13ff15"/><stop offset="0.3333" stop-color="#06ff22"/><stop offset="0.3478" stop-color="#00ff48"/><stop offset="0.3623" stop-color="#00ff88"/><stop offset="0.3768" stop-color="#00f8be"/><stop offset="0.3913" stop-color="#00e9e9"/><stop offset="0.4058" stop-color="#00c7ff"/><stop offset="0.4203" stop-color="#0091ff"/><stop offset="0.4348" stop-color="#0062ff"/><stop offset="0.4493" stop-color="#003cff"/><stop offset="0.4638" stop-color="#0017ff"/><stop offset="0.4783" stop-color="#0008f3"/><stop offset="0.4928" stop-color="#0005e2"/><stop offset="0.5072" stop-color="#0003d1"/><stop offset="0.5217" stop-color="#0001c2"/><stop offset="0.5362" stop-color="#0000ad"/><stop offset="0.5507" stop-color="#000097"/><stop offset="0.5652" stop-color="#000083"/><stop offset="0.5797" stop-color="#000071"/><stop offset="0.5942" stop-color="#000061"/><stop offset="0.6087" stop-color="#000052"/><stop offset="0.6232" stop-color="#000046"/><stop offset="0.6377" stop-color="#00003c"/><stop offset="0.6522" stop-color="#000032"/><stop offset="0.6667" stop-color="#00002a"/><stop offset="0.6812" stop-color="#000022"/><stop offset="0.6957" stop-color="#00001c"/><stop offset="0.7101" stop-color="#000016"/><stop offset="0.7246" stop-color="#000012"/><stop offset="0.7391" stop-color="#000010"/><stop offset="0.7536" stop-color="#00000e"/><stop offset="0.7681" stop-color="#00000d"/><stop offset="0.7826" stop-color="#00000b"/><stop offset="0.7971" stop-color="#00000a"/><stop offset="0.8116" stop-color="#000009"/><stop offset="0.8261" stop-color="#000008"/><stop offset="0.8406" stop-color="#000007"/><stop offset="0.8551" stop-color="#000007"/><stop offset="0.8696" stop-color="#000006"/><stop offset="0.8841" stop-color="#000006"/><stop offset="0.8986" stop-color="#000005"/><stop offset="0.9130" stop-color="#000005"/><stop offset="0.9275" stop-color="#000005"/><stop offset="0.9420" stop-color="#000004"/><stop offset="0.9565" stop-color="#000004"/><stop offset="0.9710" stop-color="#000004"/><stop offset="0.9855" stop-color="#000004"/><stop offset="1.0000" stop-color="#000004"/></radialGradient>
<radialGradient id="bg2" gradientUnits="userSpaceOnUse" cx="0" cy="0" r="62.0" gradientTransform="translate(1060.2 417.0) rotate(-42.3) scale(1 0.8)"><stop offset="0.0000" stop-color="#ff0096" stop-opacity="1"/><stop offset="0.0806" stop-color="#ff004b" stop-opacity="1"/><stop offset="0.1613" stop-color="#ff0012" stop-opacity="1"/><stop offset="0.3629" stop-color="#ff0c00" stop-opacity="1"/><stop offset="0.4435" stop-color="#ff4600" stop-opacity="1"/><stop offset="0.4919" stop-color="#ff9600" stop-opacity="1"/><stop offset="0.5403" stop-color="#ffe100" stop-opacity="1"/><stop offset="0.5806" stop-color="#f5ff00" stop-opacity="1"/><stop offset="0.6532" stop-color="#a0ff00" stop-opacity="1"/><stop offset="0.7258" stop-color="#3cff04" stop-opacity="1"/><stop offset="0.8226" stop-color="#1cff0c" stop-opacity="0"/><stop offset="1.0000" stop-color="#1cff0c" stop-opacity="0"/></radialGradient>
<filter id="grain" x="0" y="0" width="100%" height="100%"><feTurbulence type="fractalNoise" baseFrequency="0.9" numOctaves="2" seed="4" result="n"/><feDisplacementMap in="SourceGraphic" in2="n" scale="6.5" xChannelSelector="R" yChannelSelector="G"/></filter>
</defs>
<rect x="895" y="233" width="341" height="302" fill="#000003"/>
<g filter="url(#grain)"><rect x="885" y="223" width="361" height="322" fill="url(#bg)"/><rect x="885" y="223" width="361" height="322" fill="url(#bg2)"/></g>
<path d="M895.3 235.7L1167.6 534.6M1236 257.9L931.6 534.6" stroke="#d8d8d8" stroke-width="0.9" fill="none"/>
</svg>
<svg style="left:894px;top:548px" width="343" height="163" viewBox="894 548 343 163">
<rect x="894" y="548" width="343" height="163" fill="#e1e6ef"/>
<path d="M900.6 557.6H895.6V708H1235V557.6H988.4" stroke="#6f9bb6" stroke-width="1.3" fill="none"/>
<path d="M896.8 558.8V706.8" stroke="#f4f7fb" stroke-width="1" fill="none"/>
<rect x="1232.6" y="681" width="5" height="16.4" fill="#fff"/>
<defs><radialGradient id="ic" cx="0.5" cy="0.5" r="0.5"><stop offset="0" stop-color="#9a1c0c"/><stop offset="0.16" stop-color="#c03a10"/><stop offset="0.3" stop-color="#ee8a1e"/><stop offset="0.42" stop-color="#f2d22e"/><stop offset="0.54" stop-color="#9ccc44"/><stop offset="0.64" stop-color="#52b486"/><stop offset="0.76" stop-color="#3f86b8"/><stop offset="0.85" stop-color="#28508c"/><stop offset="0.93" stop-color="#17274f"/><stop offset="1" stop-color="#141f44"/></radialGradient></defs>
<circle cx="915.4" cy="557.1" r="12.5" fill="url(#ic)"/>
<path d="M903.6 557.1l5-4.2v2.3h13.6v-2.3l5 4.2l-5 4.2v-2.3h-13.6v2.3z" fill="#fff"/>
<text x="933.6" y="562.2" font-size="13" fill="#4a7698" textLength="51.6" lengthAdjust="spacingAndGlyphs">Diameter</text>
<g font-size="12.6" fill="#1c1c1c">
<text x="923.6" y="599.4" textLength="23.6" lengthAdjust="spacingAndGlyphs">d&#963;x:</text>
<text x="923.6" y="623.7" textLength="23.6" lengthAdjust="spacingAndGlyphs">d&#963;y:</text>
<text x="923.6" y="648.0" textLength="108.6" lengthAdjust="spacingAndGlyphs">Effective Diameter:</text>
<text x="923.6" y="672.3" textLength="54.6" lengthAdjust="spacingAndGlyphs">Ellipticity:</text>
<text x="923.6" y="696.5" textLength="66.8" lengthAdjust="spacingAndGlyphs">Orientation:</text>
<text x="1150.2" y="595.6" text-anchor="end" textLength="43.6" lengthAdjust="spacingAndGlyphs">5719.93</text>
<text x="1150.2" y="620.0" text-anchor="end" textLength="43.6" lengthAdjust="spacingAndGlyphs">4182.24</text>
<text x="1150.2" y="669.3" text-anchor="end" textLength="30" lengthAdjust="spacingAndGlyphs">73.12</text>
<text x="1150.2" y="693.3" text-anchor="end" textLength="30" lengthAdjust="spacingAndGlyphs">42.24</text>
<rect x="1145.4" y="638.6" width="3.2" height="1" fill="#8a8a8a"/>
<text x="1182.8" y="595.6" textLength="17.6" lengthAdjust="spacingAndGlyphs">&#181;m</text>
<text x="1182.8" y="620.0" textLength="17.6" lengthAdjust="spacingAndGlyphs">&#181;m</text>
<text x="1182.8" y="643.4" textLength="17.6" lengthAdjust="spacingAndGlyphs">&#181;m</text>
<text x="1182.8" y="669.3" textLength="11" lengthAdjust="spacingAndGlyphs">%</text>
<text x="1182.8" y="693.3" textLength="44.4" lengthAdjust="spacingAndGlyphs">degrees</text>
</g>
</svg>
</body></html>
